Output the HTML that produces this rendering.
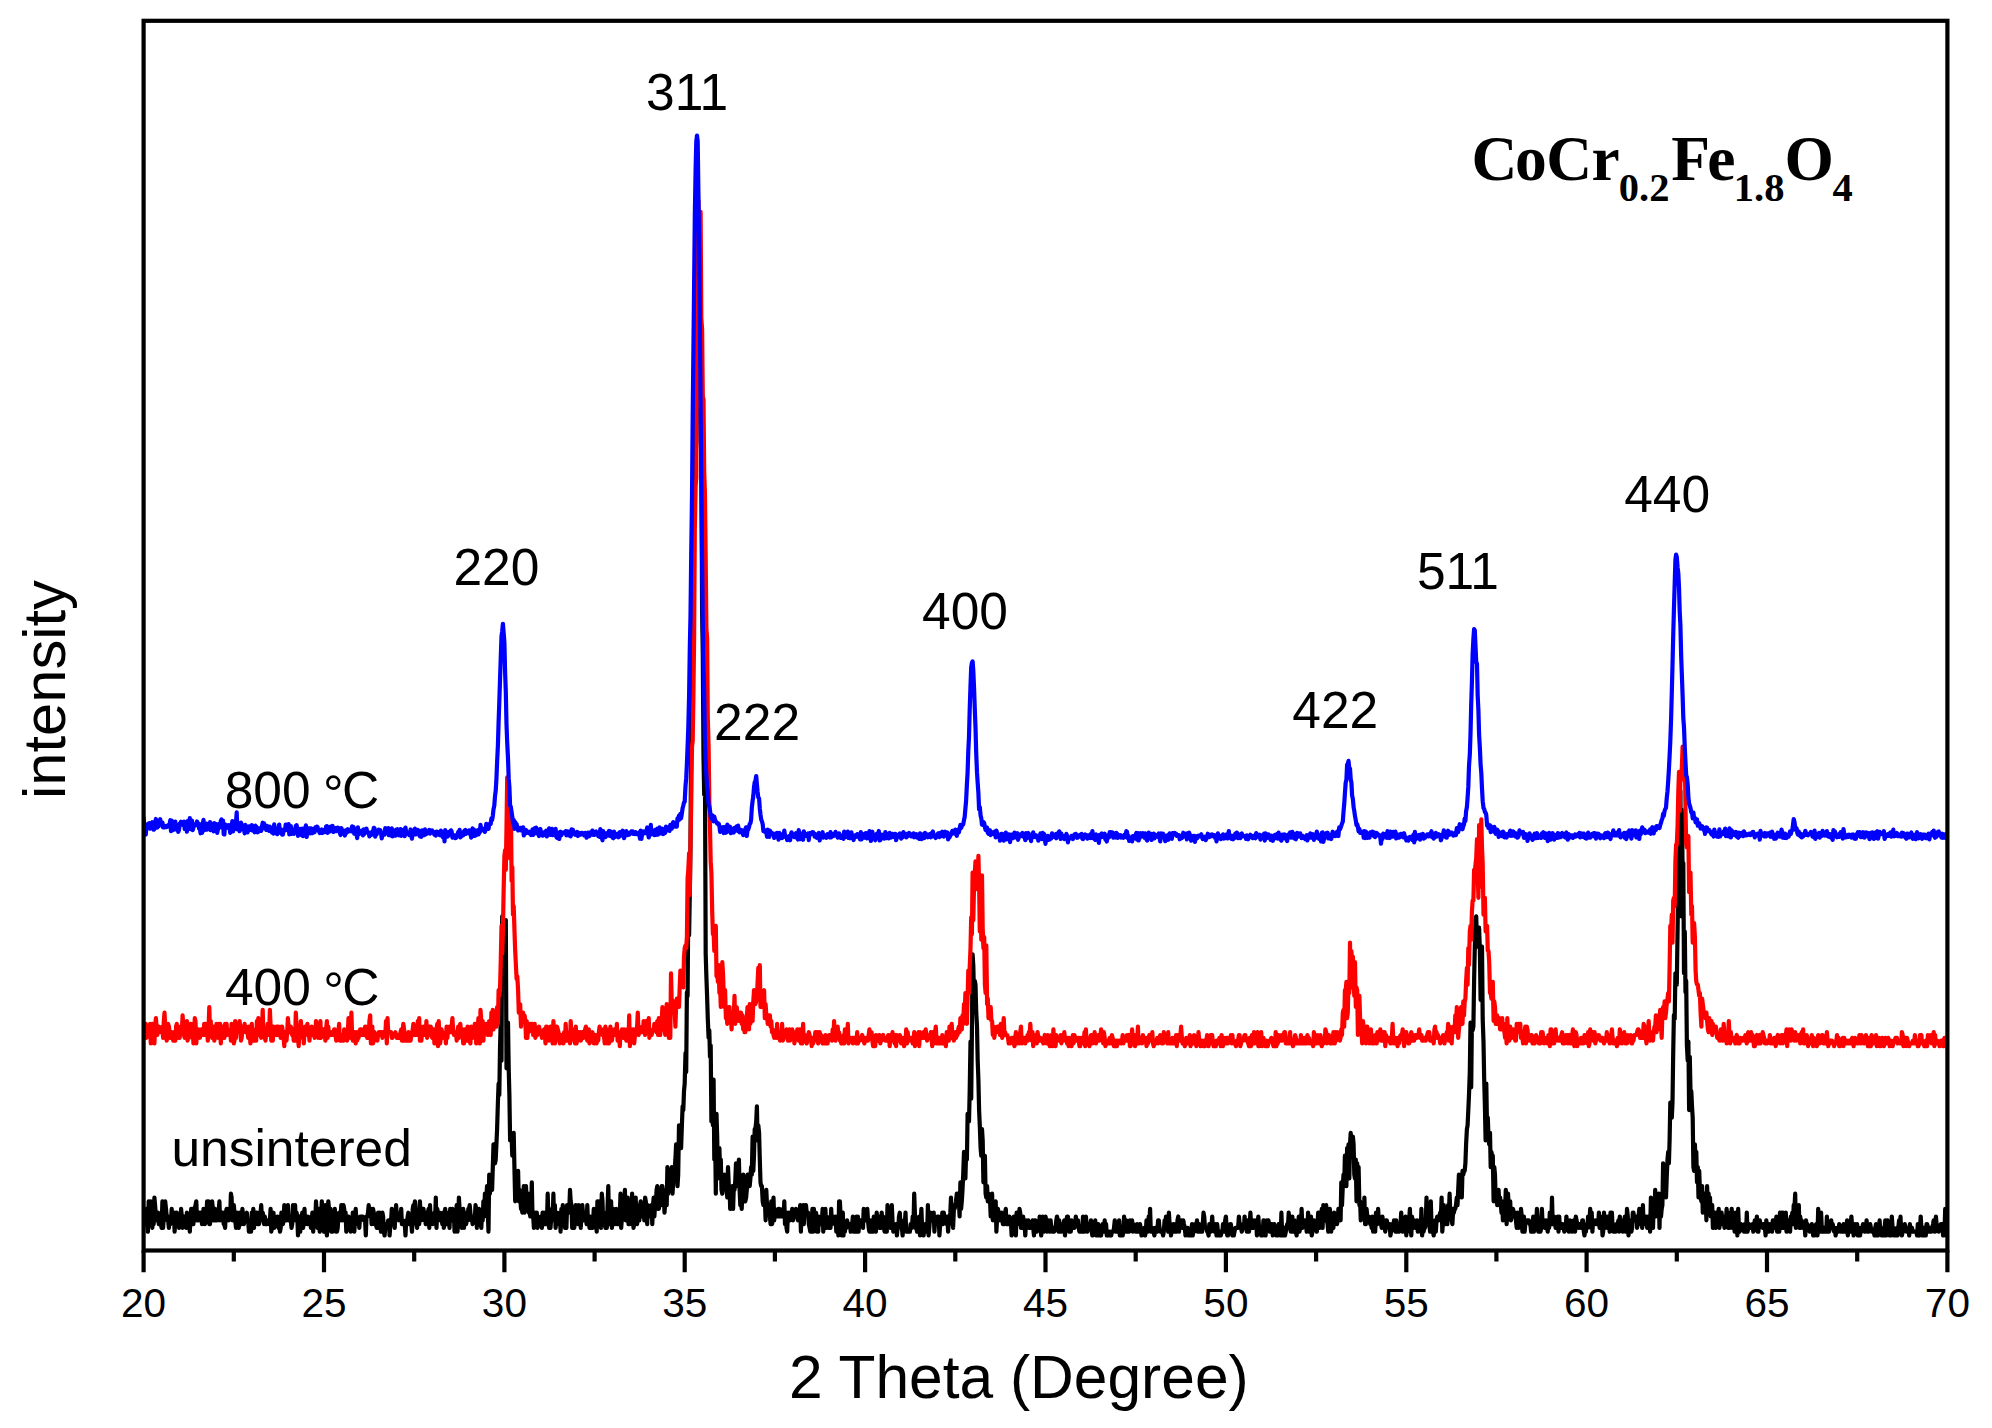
<!DOCTYPE html><html><head><meta charset="utf-8"><title>XRD CoCr0.2Fe1.8O4</title>
<style>html,body{margin:0;padding:0;background:#fff}svg{display:block}text{font-family:"Liberation Sans",sans-serif;fill:#000}.t{font-family:"Liberation Serif",serif;font-weight:bold}.c{fill:none;stroke-width:4.2;stroke-linejoin:round;stroke-linecap:round}</style></head><body>
<svg width="1992" height="1428" viewBox="0 0 1992 1428">
<rect width="1992" height="1428" fill="#fff"/>
<defs><clipPath id="cp"><rect x="143.6" y="20.8" width="1803.8" height="1229.7"/></clipPath></defs>
<g clip-path="url(#cp)">
<path class="c" stroke="#000" d="M143.6,1224.1 144.3,1220.3 145.0,1220.3 145.8,1224.1 146.5,1208.9 147.2,1224.1 147.9,1231.7 148.7,1201.3 149.4,1212.7 150.1,1216.5 150.8,1201.3 151.5,1220.3 152.3,1227.9 153.0,1220.3 153.7,1224.1 154.4,1197.5 155.1,1205.1 155.9,1216.5 156.6,1220.3 157.3,1220.3 158.0,1212.7 158.8,1224.1 159.5,1216.5 160.2,1224.1 160.9,1224.1 161.6,1227.9 162.4,1201.3 163.1,1227.9 163.8,1216.5 164.5,1212.7 165.2,1201.3 166.0,1208.9 166.7,1216.5 167.4,1220.3 168.1,1220.3 168.9,1227.9 169.6,1216.5 170.3,1224.1 171.0,1220.3 171.7,1208.9 172.5,1220.3 173.2,1220.3 173.9,1212.7 174.6,1231.7 175.3,1220.3 176.1,1212.7 176.8,1212.7 177.5,1224.1 178.2,1220.3 179.0,1227.9 179.7,1216.5 180.4,1224.1 181.1,1208.9 181.8,1216.5 182.6,1227.9 183.3,1220.3 184.0,1216.5 184.7,1224.1 185.4,1220.3 186.2,1227.9 186.9,1212.7 187.6,1220.3 188.3,1220.3 189.1,1220.3 189.8,1231.7 190.5,1220.3 191.2,1208.9 191.9,1224.1 192.7,1208.9 193.4,1224.1 194.1,1212.7 194.8,1208.9 195.5,1205.1 196.3,1201.3 197.0,1220.3 197.7,1212.7 198.4,1220.3 199.2,1212.7 199.9,1220.3 200.6,1216.5 201.3,1212.7 202.0,1224.1 202.8,1220.3 203.5,1208.9 204.2,1212.7 204.9,1224.1 205.7,1220.3 206.4,1216.5 207.1,1201.3 207.8,1216.5 208.5,1201.3 209.3,1224.1 210.0,1224.1 210.7,1216.5 211.4,1216.5 212.1,1201.3 212.9,1208.9 213.6,1220.3 214.3,1220.3 215.0,1208.9 215.8,1220.3 216.5,1216.5 217.2,1220.3 217.9,1216.5 218.6,1212.7 219.4,1201.3 220.1,1220.3 220.8,1216.5 221.5,1212.7 222.2,1212.7 223.0,1212.7 223.7,1224.1 224.4,1224.1 225.1,1227.9 225.9,1212.7 226.6,1208.9 227.3,1208.9 228.0,1212.7 228.7,1220.3 229.5,1216.5 230.2,1216.5 230.9,1193.7 231.6,1197.5 232.3,1220.3 233.1,1212.7 233.8,1205.1 234.5,1212.7 235.2,1220.3 236.0,1227.9 236.7,1216.5 237.4,1212.7 238.1,1224.1 238.8,1227.9 239.6,1212.7 240.3,1224.1 241.0,1224.1 241.7,1224.1 242.4,1208.9 243.2,1216.5 243.9,1224.1 244.6,1220.3 245.3,1220.3 246.1,1216.5 246.8,1212.7 247.5,1220.3 248.2,1220.3 248.9,1231.7 249.7,1231.7 250.4,1224.1 251.1,1231.7 251.8,1212.7 252.5,1224.1 253.3,1208.9 254.0,1227.9 254.7,1212.7 255.4,1216.5 256.2,1212.7 256.9,1212.7 257.6,1224.1 258.3,1224.1 259.0,1224.1 259.8,1220.3 260.5,1212.7 261.2,1205.1 261.9,1216.5 262.7,1212.7 263.4,1216.5 264.1,1224.1 264.8,1216.5 265.5,1224.1 266.3,1224.1 267.0,1224.1 267.7,1220.3 268.4,1220.3 269.1,1224.1 269.9,1220.3 270.6,1208.9 271.3,1231.7 272.0,1227.9 272.8,1216.5 273.5,1212.7 274.2,1227.9 274.9,1220.3 275.6,1220.3 276.4,1220.3 277.1,1216.5 277.8,1216.5 278.5,1227.9 279.2,1224.1 280.0,1231.7 280.7,1227.9 281.4,1212.7 282.1,1216.5 282.9,1224.1 283.6,1220.3 284.3,1205.1 285.0,1208.9 285.7,1220.3 286.5,1220.3 287.2,1212.7 287.9,1205.1 288.6,1220.3 289.3,1220.3 290.1,1220.3 290.8,1220.3 291.5,1227.9 292.2,1224.1 293.0,1205.1 293.7,1216.5 294.4,1220.3 295.1,1205.1 295.8,1220.3 296.6,1212.7 297.3,1216.5 298.0,1235.5 298.7,1220.3 299.4,1216.5 300.2,1231.7 300.9,1224.1 301.6,1216.5 302.3,1212.7 303.1,1227.9 303.8,1220.3 304.5,1208.9 305.2,1224.1 305.9,1220.3 306.7,1216.5 307.4,1224.1 308.1,1216.5 308.8,1220.3 309.5,1224.1 310.3,1224.1 311.0,1227.9 311.7,1220.3 312.4,1212.7 313.2,1231.7 313.9,1212.7 314.6,1216.5 315.3,1220.3 316.0,1201.3 316.8,1216.5 317.5,1227.9 318.2,1224.1 318.9,1208.9 319.7,1231.7 320.4,1224.1 321.1,1216.5 321.8,1201.3 322.5,1208.9 323.3,1224.1 324.0,1231.7 324.7,1216.5 325.4,1205.1 326.1,1227.9 326.9,1235.5 327.6,1216.5 328.3,1201.3 329.0,1208.9 329.8,1216.5 330.5,1208.9 331.2,1231.7 331.9,1216.5 332.6,1231.7 333.4,1216.5 334.1,1220.3 334.8,1208.9 335.5,1224.1 336.2,1231.7 337.0,1231.7 337.7,1227.9 338.4,1216.5 339.1,1212.7 339.9,1220.3 340.6,1216.5 341.3,1205.1 342.0,1220.3 342.7,1220.3 343.5,1205.1 344.2,1208.9 344.9,1220.3 345.6,1212.7 346.3,1231.7 347.1,1227.9 347.8,1220.3 348.5,1216.5 349.2,1224.1 350.0,1220.3 350.7,1231.7 351.4,1227.9 352.1,1227.9 352.8,1212.7 353.6,1220.3 354.3,1231.7 355.0,1220.3 355.7,1208.9 356.4,1220.3 357.2,1220.3 357.9,1224.1 358.6,1220.3 359.3,1227.9 360.1,1216.5 360.8,1216.5 361.5,1216.5 362.2,1216.5 362.9,1216.5 363.7,1220.3 364.4,1220.3 365.1,1220.3 365.8,1235.5 366.5,1216.5 367.3,1216.5 368.0,1212.7 368.7,1205.1 369.4,1212.7 370.2,1216.5 370.9,1208.9 371.6,1224.1 372.3,1212.7 373.0,1208.9 373.8,1212.7 374.5,1224.1 375.2,1216.5 375.9,1224.1 376.7,1227.9 377.4,1227.9 378.1,1212.7 378.8,1227.9 379.5,1212.7 380.3,1224.1 381.0,1231.7 381.7,1231.7 382.4,1212.7 383.1,1216.5 383.9,1231.7 384.6,1235.5 385.3,1227.9 386.0,1224.1 386.8,1227.9 387.5,1224.1 388.2,1220.3 388.9,1220.3 389.6,1235.5 390.4,1224.1 391.1,1220.3 391.8,1208.9 392.5,1224.1 393.2,1212.7 394.0,1220.3 394.7,1227.9 395.4,1216.5 396.1,1205.1 396.9,1216.5 397.6,1212.7 398.3,1216.5 399.0,1220.3 399.7,1216.5 400.5,1220.3 401.2,1208.9 401.9,1224.1 402.6,1220.3 403.3,1224.1 404.1,1224.1 404.8,1224.1 405.5,1235.5 406.2,1220.3 407.0,1224.1 407.7,1216.5 408.4,1212.7 409.1,1224.1 409.8,1224.1 410.6,1220.3 411.3,1224.1 412.0,1231.7 412.7,1208.9 413.4,1205.1 414.2,1212.7 414.9,1201.3 415.6,1208.9 416.3,1224.1 417.1,1227.9 417.8,1212.7 418.5,1224.1 419.2,1224.1 419.9,1201.3 420.7,1216.5 421.4,1220.3 422.1,1208.9 422.8,1208.9 423.5,1208.9 424.3,1220.3 425.0,1212.7 425.7,1224.1 426.4,1224.1 427.2,1220.3 427.9,1212.7 428.6,1208.9 429.3,1227.9 430.0,1205.1 430.8,1224.1 431.5,1216.5 432.2,1216.5 432.9,1224.1 433.7,1216.5 434.4,1212.7 435.1,1220.3 435.8,1197.5 436.5,1227.9 437.3,1208.9 438.0,1216.5 438.7,1220.3 439.4,1212.7 440.1,1220.3 440.9,1220.3 441.6,1216.5 442.3,1224.1 443.0,1212.7 443.8,1227.9 444.5,1224.1 445.2,1208.9 445.9,1224.1 446.6,1216.5 447.4,1224.1 448.1,1216.5 448.8,1212.7 449.5,1227.9 450.2,1208.9 451.0,1220.3 451.7,1220.3 452.4,1208.9 453.1,1216.5 453.9,1216.5 454.6,1231.7 455.3,1212.7 456.0,1212.7 456.7,1205.1 457.5,1231.7 458.2,1220.3 458.9,1197.5 459.6,1208.9 460.3,1216.5 461.1,1220.3 461.8,1227.9 462.5,1216.5 463.2,1208.9 464.0,1227.9 464.7,1216.5 465.4,1212.7 466.1,1224.1 466.8,1220.3 467.6,1220.3 468.3,1208.9 469.0,1208.9 469.7,1205.1 470.4,1212.7 471.2,1220.3 471.9,1216.5 472.6,1224.1 473.3,1216.5 474.1,1216.5 474.8,1220.3 475.5,1205.1 476.2,1208.9 476.9,1227.9 477.7,1208.9 478.4,1212.7 479.1,1208.9 479.8,1220.3 480.5,1220.3 481.3,1227.9 482.0,1212.7 482.7,1220.3 483.4,1201.3 484.2,1216.5 484.9,1193.7 485.6,1197.5 486.3,1201.3 487.0,1186.1 487.8,1212.7 488.5,1231.7 489.2,1174.7 489.9,1193.7 490.7,1178.5 491.4,1186.1 492.1,1189.9 492.8,1167.1 493.5,1144.3 494.3,1163.3 495.0,1163.3 495.7,1159.5 496.4,1144.3 497.1,1129.1 497.9,1102.5 498.6,1083.5 499.3,1094.9 500.0,1049.3 500.8,1018.9 501.5,1060.7 502.2,916.3 502.9,977.1 503.6,942.9 504.4,961.9 505.1,980.9 505.8,920.1 506.5,1068.3 507.2,1045.5 508.0,1022.7 508.7,1068.3 509.4,1094.9 510.1,1140.5 510.9,1136.7 511.6,1136.7 512.3,1155.7 513.0,1155.7 513.7,1132.9 514.5,1170.9 515.2,1201.3 515.9,1174.7 516.6,1178.5 517.3,1193.7 518.1,1170.9 518.8,1201.3 519.5,1189.9 520.2,1197.5 521.0,1208.9 521.7,1208.9 522.4,1212.7 523.1,1197.5 523.8,1186.1 524.6,1212.7 525.3,1201.3 526.0,1186.1 526.7,1205.1 527.4,1208.9 528.2,1193.7 528.9,1212.7 529.6,1212.7 530.3,1216.5 531.1,1212.7 531.8,1182.3 532.5,1216.5 533.2,1216.5 533.9,1227.9 534.7,1212.7 535.4,1224.1 536.1,1220.3 536.8,1212.7 537.5,1227.9 538.3,1224.1 539.0,1224.1 539.7,1220.3 540.4,1216.5 541.2,1216.5 541.9,1227.9 542.6,1212.7 543.3,1224.1 544.0,1212.7 544.8,1224.1 545.5,1220.3 546.2,1224.1 546.9,1224.1 547.7,1193.7 548.4,1216.5 549.1,1227.9 549.8,1212.7 550.5,1227.9 551.3,1216.5 552.0,1208.9 552.7,1216.5 553.4,1193.7 554.1,1220.3 554.9,1205.1 555.6,1227.9 556.3,1216.5 557.0,1212.7 557.8,1216.5 558.5,1224.1 559.2,1216.5 559.9,1212.7 560.6,1231.7 561.4,1208.9 562.1,1216.5 562.8,1205.1 563.5,1224.1 564.2,1220.3 565.0,1227.9 565.7,1220.3 566.4,1227.9 567.1,1205.1 567.9,1208.9 568.6,1212.7 569.3,1208.9 570.0,1189.9 570.7,1201.3 571.5,1205.1 572.2,1227.9 572.9,1220.3 573.6,1220.3 574.3,1227.9 575.1,1216.5 575.8,1205.1 576.5,1220.3 577.2,1220.3 578.0,1224.1 578.7,1205.1 579.4,1220.3 580.1,1212.7 580.8,1227.9 581.6,1208.9 582.3,1205.1 583.0,1212.7 583.7,1220.3 584.4,1220.3 585.2,1220.3 585.9,1216.5 586.6,1224.1 587.3,1205.1 588.1,1224.1 588.8,1220.3 589.5,1227.9 590.2,1216.5 590.9,1220.3 591.7,1224.1 592.4,1227.9 593.1,1220.3 593.8,1208.9 594.6,1220.3 595.3,1227.9 596.0,1212.7 596.7,1231.7 597.4,1201.3 598.2,1208.9 598.9,1201.3 599.6,1224.1 600.3,1208.9 601.0,1227.9 601.8,1193.7 602.5,1201.3 603.2,1224.1 603.9,1212.7 604.7,1220.3 605.4,1227.9 606.1,1216.5 606.8,1227.9 607.5,1208.9 608.3,1186.1 609.0,1224.1 609.7,1212.7 610.4,1208.9 611.1,1201.3 611.9,1227.9 612.6,1212.7 613.3,1208.9 614.0,1220.3 614.8,1224.1 615.5,1220.3 616.2,1208.9 616.9,1224.1 617.6,1224.1 618.4,1212.7 619.1,1224.1 619.8,1216.5 620.5,1193.7 621.2,1227.9 622.0,1216.5 622.7,1208.9 623.4,1212.7 624.1,1205.1 624.9,1189.9 625.6,1220.3 626.3,1208.9 627.0,1212.7 627.7,1197.5 628.5,1224.1 629.2,1201.3 629.9,1224.1 630.6,1216.5 631.3,1220.3 632.1,1193.7 632.8,1212.7 633.5,1227.9 634.2,1224.1 635.0,1216.5 635.7,1197.5 636.4,1220.3 637.1,1224.1 637.8,1216.5 638.6,1208.9 639.3,1220.3 640.0,1205.1 640.7,1201.3 641.4,1208.9 642.2,1216.5 642.9,1216.5 643.6,1208.9 644.3,1220.3 645.1,1197.5 645.8,1201.3 646.5,1212.7 647.2,1224.1 647.9,1205.1 648.7,1212.7 649.4,1208.9 650.1,1216.5 650.8,1212.7 651.6,1205.1 652.3,1224.1 653.0,1205.1 653.7,1197.5 654.4,1216.5 655.2,1201.3 655.9,1201.3 656.6,1189.9 657.3,1186.1 658.0,1208.9 658.8,1208.9 659.5,1205.1 660.2,1193.7 660.9,1205.1 661.7,1186.1 662.4,1186.1 663.1,1197.5 663.8,1193.7 664.5,1212.7 665.3,1201.3 666.0,1189.9 666.7,1205.1 667.4,1167.1 668.1,1193.7 668.9,1186.1 669.6,1189.9 670.3,1174.7 671.0,1174.7 671.8,1167.1 672.5,1193.7 673.2,1182.3 673.9,1174.7 674.6,1170.9 675.4,1159.5 676.1,1144.3 676.8,1159.5 677.5,1186.1 678.2,1174.7 679.0,1125.3 679.7,1129.1 680.4,1148.1 681.1,1148.1 681.9,1125.3 682.6,1106.3 683.3,1110.1 684.0,1091.1 684.7,1083.5 685.5,1053.1 686.2,1072.1 686.9,992.3 687.6,996.1 688.3,901.1 689.1,935.3 689.8,893.5 690.5,844.1 691.2,726.3 692.0,730.1 692.7,619.9 693.4,600.9 694.1,399.5 694.8,418.5 695.6,243.7 696.3,262.7 697.0,194.3 697.7,293.1 698.4,239.9 699.2,338.7 699.9,372.9 700.6,441.3 701.3,452.7 702.1,612.3 702.8,654.1 703.5,756.7 704.2,794.7 704.9,760.5 705.7,954.3 706.4,977.1 707.1,996.1 707.8,1018.9 708.6,1037.9 709.3,1030.3 710.0,1056.9 710.7,1045.5 711.4,1121.5 712.2,1083.5 712.9,1125.3 713.6,1079.7 714.3,1159.5 715.0,1121.5 715.8,1193.7 716.5,1113.9 717.2,1136.7 717.9,1178.5 718.7,1148.1 719.4,1148.1 720.1,1170.9 720.8,1159.5 721.5,1189.9 722.3,1193.7 723.0,1178.5 723.7,1189.9 724.4,1174.7 725.1,1186.1 725.9,1182.3 726.6,1189.9 727.3,1197.5 728.0,1167.1 728.8,1186.1 729.5,1186.1 730.2,1208.9 730.9,1208.9 731.6,1201.3 732.4,1186.1 733.1,1208.9 733.8,1186.1 734.5,1189.9 735.2,1182.3 736.0,1163.3 736.7,1186.1 737.4,1182.3 738.1,1174.7 738.9,1159.5 739.6,1189.9 740.3,1205.1 741.0,1197.5 741.7,1208.9 742.5,1189.9 743.2,1174.7 743.9,1201.3 744.6,1193.7 745.3,1201.3 746.1,1197.5 746.8,1189.9 747.5,1174.7 748.2,1174.7 749.0,1178.5 749.7,1186.1 750.4,1178.5 751.1,1167.1 751.8,1174.7 752.6,1136.7 753.3,1170.9 754.0,1155.7 754.7,1129.1 755.4,1129.1 756.2,1121.5 756.9,1106.3 757.6,1140.5 758.3,1125.3 759.1,1132.9 759.8,1159.5 760.5,1182.3 761.2,1186.1 761.9,1186.1 762.7,1201.3 763.4,1205.1 764.1,1205.1 764.8,1197.5 765.6,1220.3 766.3,1189.9 767.0,1205.1 767.7,1212.7 768.4,1208.9 769.2,1205.1 769.9,1216.5 770.6,1224.1 771.3,1201.3 772.0,1224.1 772.8,1220.3 773.5,1197.5 774.2,1220.3 774.9,1208.9 775.7,1212.7 776.4,1212.7 777.1,1212.7 777.8,1216.5 778.5,1208.9 779.3,1208.9 780.0,1216.5 780.7,1212.7 781.4,1216.5 782.1,1216.5 782.9,1208.9 783.6,1216.5 784.3,1201.3 785.0,1224.1 785.8,1216.5 786.5,1227.9 787.2,1231.7 787.9,1212.7 788.6,1216.5 789.4,1212.7 790.1,1220.3 790.8,1212.7 791.5,1216.5 792.2,1208.9 793.0,1220.3 793.7,1216.5 794.4,1212.7 795.1,1216.5 795.9,1208.9 796.6,1212.7 797.3,1216.5 798.0,1220.3 798.7,1216.5 799.5,1212.7 800.2,1205.1 800.9,1231.7 801.6,1212.7 802.3,1216.5 803.1,1205.1 803.8,1224.1 804.5,1208.9 805.2,1205.1 806.0,1205.1 806.7,1212.7 807.4,1212.7 808.1,1212.7 808.8,1224.1 809.6,1227.9 810.3,1231.7 811.0,1231.7 811.7,1224.1 812.4,1208.9 813.2,1231.7 813.9,1208.9 814.6,1224.1 815.3,1216.5 816.1,1212.7 816.8,1231.7 817.5,1220.3 818.2,1231.7 818.9,1216.5 819.7,1224.1 820.4,1224.1 821.1,1220.3 821.8,1224.1 822.6,1208.9 823.3,1231.7 824.0,1220.3 824.7,1220.3 825.4,1208.9 826.2,1227.9 826.9,1216.5 827.6,1224.1 828.3,1227.9 829.0,1224.1 829.8,1227.9 830.5,1227.9 831.2,1208.9 831.9,1224.1 832.7,1216.5 833.4,1216.5 834.1,1220.3 834.8,1224.1 835.5,1216.5 836.3,1231.7 837.0,1231.7 837.7,1224.1 838.4,1235.5 839.1,1201.3 839.9,1201.3 840.6,1216.5 841.3,1227.9 842.0,1235.5 842.8,1212.7 843.5,1235.5 844.2,1224.1 844.9,1231.7 845.6,1224.1 846.4,1227.9 847.1,1220.3 847.8,1224.1 848.5,1224.1 849.2,1224.1 850.0,1224.1 850.7,1231.7 851.4,1227.9 852.1,1224.1 852.9,1216.5 853.6,1231.7 854.3,1227.9 855.0,1224.1 855.7,1231.7 856.5,1216.5 857.2,1231.7 857.9,1216.5 858.6,1231.7 859.3,1220.3 860.1,1220.3 860.8,1224.1 861.5,1220.3 862.2,1220.3 863.0,1227.9 863.7,1208.9 864.4,1220.3 865.1,1220.3 865.8,1220.3 866.6,1220.3 867.3,1208.9 868.0,1220.3 868.7,1227.9 869.4,1231.7 870.2,1231.7 870.9,1220.3 871.6,1231.7 872.3,1227.9 873.1,1231.7 873.8,1216.5 874.5,1227.9 875.2,1224.1 875.9,1231.7 876.7,1212.7 877.4,1224.1 878.1,1220.3 878.8,1216.5 879.6,1227.9 880.3,1224.1 881.0,1227.9 881.7,1212.7 882.4,1220.3 883.2,1216.5 883.9,1227.9 884.6,1231.7 885.3,1231.7 886.0,1220.3 886.8,1231.7 887.5,1205.1 888.2,1227.9 888.9,1220.3 889.7,1216.5 890.4,1227.9 891.1,1227.9 891.8,1205.1 892.5,1220.3 893.3,1231.7 894.0,1227.9 894.7,1227.9 895.4,1231.7 896.1,1224.1 896.9,1235.5 897.6,1227.9 898.3,1227.9 899.0,1216.5 899.8,1212.7 900.5,1224.1 901.2,1220.3 901.9,1227.9 902.6,1235.5 903.4,1224.1 904.1,1220.3 904.8,1224.1 905.5,1212.7 906.2,1231.7 907.0,1231.7 907.7,1231.7 908.4,1231.7 909.1,1231.7 909.9,1231.7 910.6,1224.1 911.3,1227.9 912.0,1227.9 912.7,1216.5 913.5,1224.1 914.2,1193.7 914.9,1212.7 915.6,1227.9 916.3,1227.9 917.1,1231.7 917.8,1220.3 918.5,1220.3 919.2,1216.5 920.0,1235.5 920.7,1220.3 921.4,1208.9 922.1,1227.9 922.8,1227.9 923.6,1235.5 924.3,1227.9 925.0,1224.1 925.7,1224.1 926.4,1231.7 927.2,1231.7 927.9,1205.1 928.6,1235.5 929.3,1227.9 930.1,1216.5 930.8,1212.7 931.5,1220.3 932.2,1220.3 932.9,1220.3 933.7,1212.7 934.4,1231.7 935.1,1220.3 935.8,1224.1 936.6,1224.1 937.3,1216.5 938.0,1216.5 938.7,1216.5 939.4,1235.5 940.2,1224.1 940.9,1224.1 941.6,1224.1 942.3,1212.7 943.0,1224.1 943.8,1212.7 944.5,1220.3 945.2,1220.3 945.9,1216.5 946.7,1224.1 947.4,1216.5 948.1,1231.7 948.8,1220.3 949.5,1224.1 950.3,1212.7 951.0,1197.5 951.7,1220.3 952.4,1216.5 953.1,1227.9 953.9,1208.9 954.6,1208.9 955.3,1205.1 956.0,1201.3 956.8,1193.7 957.5,1193.7 958.2,1205.1 958.9,1201.3 959.6,1216.5 960.4,1182.3 961.1,1208.9 961.8,1201.3 962.5,1189.9 963.2,1174.7 964.0,1151.9 964.7,1167.1 965.4,1178.5 966.1,1151.9 966.9,1159.5 967.6,1113.9 968.3,1121.5 969.0,1121.5 969.7,1091.1 970.5,1041.7 971.2,1098.7 971.9,1034.1 972.6,954.3 973.3,965.7 974.1,999.9 974.8,980.9 975.5,984.7 976.2,1011.3 977.0,1026.5 977.7,1060.7 978.4,1079.7 979.1,1110.1 979.8,1125.3 980.6,1148.1 981.3,1155.7 982.0,1129.1 982.7,1140.5 983.4,1182.3 984.2,1159.5 984.9,1155.7 985.6,1193.7 986.3,1197.5 987.1,1186.1 987.8,1201.3 988.5,1193.7 989.2,1201.3 989.9,1197.5 990.7,1216.5 991.4,1201.3 992.1,1193.7 992.8,1220.3 993.6,1216.5 994.3,1208.9 995.0,1205.1 995.7,1201.3 996.4,1231.7 997.2,1216.5 997.9,1208.9 998.6,1212.7 999.3,1216.5 1000.0,1220.3 1000.8,1220.3 1001.5,1212.7 1002.2,1216.5 1002.9,1224.1 1003.7,1224.1 1004.4,1224.1 1005.1,1212.7 1005.8,1208.9 1006.5,1224.1 1007.3,1224.1 1008.0,1216.5 1008.7,1224.1 1009.4,1216.5 1010.1,1220.3 1010.9,1220.3 1011.6,1235.5 1012.3,1231.7 1013.0,1224.1 1013.8,1216.5 1014.5,1216.5 1015.2,1224.1 1015.9,1235.5 1016.6,1212.7 1017.4,1224.1 1018.1,1212.7 1018.8,1220.3 1019.5,1208.9 1020.2,1212.7 1021.0,1227.9 1021.7,1227.9 1022.4,1227.9 1023.1,1216.5 1023.9,1227.9 1024.6,1224.1 1025.3,1235.5 1026.0,1220.3 1026.7,1224.1 1027.5,1224.1 1028.2,1220.3 1028.9,1227.9 1029.6,1224.1 1030.3,1227.9 1031.1,1224.1 1031.8,1224.1 1032.5,1220.3 1033.2,1227.9 1034.0,1235.5 1034.7,1220.3 1035.4,1220.3 1036.1,1227.9 1036.8,1231.7 1037.6,1224.1 1038.3,1224.1 1039.0,1224.1 1039.7,1216.5 1040.4,1224.1 1041.2,1235.5 1041.9,1224.1 1042.6,1216.5 1043.3,1227.9 1044.1,1231.7 1044.8,1227.9 1045.5,1216.5 1046.2,1220.3 1046.9,1231.7 1047.7,1220.3 1048.4,1220.3 1049.1,1227.9 1049.8,1231.7 1050.6,1220.3 1051.3,1227.9 1052.0,1231.7 1052.7,1231.7 1053.4,1227.9 1054.2,1231.7 1054.9,1227.9 1055.6,1227.9 1056.3,1220.3 1057.0,1216.5 1057.8,1220.3 1058.5,1231.7 1059.2,1220.3 1059.9,1231.7 1060.7,1224.1 1061.4,1231.7 1062.1,1224.1 1062.8,1227.9 1063.5,1224.1 1064.3,1220.3 1065.0,1235.5 1065.7,1224.1 1066.4,1220.3 1067.1,1216.5 1067.9,1216.5 1068.6,1224.1 1069.3,1231.7 1070.0,1231.7 1070.8,1231.7 1071.5,1220.3 1072.2,1227.9 1072.9,1224.1 1073.6,1227.9 1074.4,1227.9 1075.1,1224.1 1075.8,1216.5 1076.5,1224.1 1077.2,1224.1 1078.0,1220.3 1078.7,1227.9 1079.4,1231.7 1080.1,1231.7 1080.9,1231.7 1081.6,1227.9 1082.3,1231.7 1083.0,1216.5 1083.7,1227.9 1084.5,1231.7 1085.2,1227.9 1085.9,1216.5 1086.6,1224.1 1087.3,1231.7 1088.1,1224.1 1088.8,1224.1 1089.5,1227.9 1090.2,1227.9 1091.0,1220.3 1091.7,1231.7 1092.4,1235.5 1093.1,1231.7 1093.8,1224.1 1094.6,1224.1 1095.3,1220.3 1096.0,1235.5 1096.7,1231.7 1097.4,1235.5 1098.2,1224.1 1098.9,1235.5 1099.6,1235.5 1100.3,1231.7 1101.1,1235.5 1101.8,1227.9 1102.5,1224.1 1103.2,1231.7 1103.9,1231.7 1104.7,1220.3 1105.4,1231.7 1106.1,1224.1 1106.8,1235.5 1107.6,1235.5 1108.3,1235.5 1109.0,1231.7 1109.7,1235.5 1110.4,1231.7 1111.2,1235.5 1111.9,1231.7 1112.6,1231.7 1113.3,1231.7 1114.0,1227.9 1114.8,1220.3 1115.5,1231.7 1116.2,1231.7 1116.9,1224.1 1117.7,1227.9 1118.4,1231.7 1119.1,1220.3 1119.8,1235.5 1120.5,1227.9 1121.3,1231.7 1122.0,1235.5 1122.7,1235.5 1123.4,1227.9 1124.1,1216.5 1124.9,1231.7 1125.6,1224.1 1126.3,1220.3 1127.0,1231.7 1127.8,1231.7 1128.5,1227.9 1129.2,1231.7 1129.9,1220.3 1130.6,1224.1 1131.4,1224.1 1132.1,1220.3 1132.8,1231.7 1133.5,1224.1 1134.2,1227.9 1135.0,1227.9 1135.7,1231.7 1136.4,1231.7 1137.1,1224.1 1137.9,1231.7 1138.6,1231.7 1139.3,1227.9 1140.0,1224.1 1140.7,1227.9 1141.5,1235.5 1142.2,1231.7 1142.9,1231.7 1143.6,1231.7 1144.3,1227.9 1145.1,1235.5 1145.8,1231.7 1146.5,1220.3 1147.2,1227.9 1148.0,1231.7 1148.7,1216.5 1149.4,1220.3 1150.1,1208.9 1150.8,1231.7 1151.6,1231.7 1152.3,1227.9 1153.0,1231.7 1153.7,1231.7 1154.4,1235.5 1155.2,1227.9 1155.9,1231.7 1156.6,1227.9 1157.3,1231.7 1158.1,1220.3 1158.8,1220.3 1159.5,1227.9 1160.2,1231.7 1160.9,1231.7 1161.7,1231.7 1162.4,1231.7 1163.1,1235.5 1163.8,1231.7 1164.6,1220.3 1165.3,1227.9 1166.0,1216.5 1166.7,1220.3 1167.4,1224.1 1168.2,1231.7 1168.9,1212.7 1169.6,1224.1 1170.3,1224.1 1171.0,1235.5 1171.8,1227.9 1172.5,1227.9 1173.2,1224.1 1173.9,1224.1 1174.7,1231.7 1175.4,1227.9 1176.1,1224.1 1176.8,1231.7 1177.5,1220.3 1178.3,1216.5 1179.0,1231.7 1179.7,1224.1 1180.4,1227.9 1181.1,1220.3 1181.9,1220.3 1182.6,1227.9 1183.3,1220.3 1184.0,1224.1 1184.8,1227.9 1185.5,1235.5 1186.2,1227.9 1186.9,1231.7 1187.6,1227.9 1188.4,1235.5 1189.1,1235.5 1189.8,1231.7 1190.5,1235.5 1191.2,1231.7 1192.0,1224.1 1192.7,1235.5 1193.4,1231.7 1194.1,1231.7 1194.9,1224.1 1195.6,1227.9 1196.3,1227.9 1197.0,1220.3 1197.7,1231.7 1198.5,1231.7 1199.2,1224.1 1199.9,1227.9 1200.6,1231.7 1201.3,1231.7 1202.1,1231.7 1202.8,1224.1 1203.5,1212.7 1204.2,1216.5 1205.0,1227.9 1205.7,1227.9 1206.4,1227.9 1207.1,1231.7 1207.8,1231.7 1208.6,1235.5 1209.3,1224.1 1210.0,1227.9 1210.7,1231.7 1211.4,1227.9 1212.2,1216.5 1212.9,1227.9 1213.6,1227.9 1214.3,1231.7 1215.1,1231.7 1215.8,1224.1 1216.5,1235.5 1217.2,1224.1 1217.9,1231.7 1218.7,1231.7 1219.4,1235.5 1220.1,1231.7 1220.8,1235.5 1221.6,1231.7 1222.3,1231.7 1223.0,1224.1 1223.7,1227.9 1224.4,1231.7 1225.2,1220.3 1225.9,1216.5 1226.6,1227.9 1227.3,1235.5 1228.0,1235.5 1228.8,1227.9 1229.5,1231.7 1230.2,1224.1 1230.9,1224.1 1231.7,1231.7 1232.4,1235.5 1233.1,1231.7 1233.8,1235.5 1234.5,1231.7 1235.3,1227.9 1236.0,1227.9 1236.7,1227.9 1237.4,1227.9 1238.1,1227.9 1238.9,1216.5 1239.6,1224.1 1240.3,1224.1 1241.0,1227.9 1241.8,1231.7 1242.5,1227.9 1243.2,1224.1 1243.9,1227.9 1244.6,1216.5 1245.4,1227.9 1246.1,1227.9 1246.8,1231.7 1247.5,1220.3 1248.2,1227.9 1249.0,1231.7 1249.7,1224.1 1250.4,1212.7 1251.1,1224.1 1251.9,1227.9 1252.6,1224.1 1253.3,1227.9 1254.0,1220.3 1254.7,1224.1 1255.5,1224.1 1256.2,1220.3 1256.9,1235.5 1257.6,1231.7 1258.3,1216.5 1259.1,1227.9 1259.8,1231.7 1260.5,1227.9 1261.2,1235.5 1262.0,1227.9 1262.7,1235.5 1263.4,1220.3 1264.1,1220.3 1264.8,1235.5 1265.6,1235.5 1266.3,1224.1 1267.0,1220.3 1267.7,1227.9 1268.4,1220.3 1269.2,1224.1 1269.9,1231.7 1270.6,1224.1 1271.3,1224.1 1272.1,1224.1 1272.8,1235.5 1273.5,1227.9 1274.2,1224.1 1274.9,1231.7 1275.7,1231.7 1276.4,1235.5 1277.1,1231.7 1277.8,1235.5 1278.6,1224.1 1279.3,1227.9 1280.0,1227.9 1280.7,1235.5 1281.4,1212.7 1282.2,1235.5 1282.9,1231.7 1283.6,1231.7 1284.3,1227.9 1285.0,1235.5 1285.8,1231.7 1286.5,1227.9 1287.2,1224.1 1287.9,1227.9 1288.7,1212.7 1289.4,1220.3 1290.1,1227.9 1290.8,1231.7 1291.5,1231.7 1292.3,1216.5 1293.0,1224.1 1293.7,1231.7 1294.4,1220.3 1295.1,1227.9 1295.9,1231.7 1296.6,1235.5 1297.3,1227.9 1298.0,1224.1 1298.8,1216.5 1299.5,1231.7 1300.2,1227.9 1300.9,1227.9 1301.6,1208.9 1302.4,1227.9 1303.1,1224.1 1303.8,1224.1 1304.5,1220.3 1305.2,1220.3 1306.0,1224.1 1306.7,1231.7 1307.4,1227.9 1308.1,1212.7 1308.9,1231.7 1309.6,1220.3 1310.3,1224.1 1311.0,1216.5 1311.7,1235.5 1312.5,1231.7 1313.2,1224.1 1313.9,1220.3 1314.6,1227.9 1315.3,1224.1 1316.1,1224.1 1316.8,1231.7 1317.5,1224.1 1318.2,1212.7 1319.0,1212.7 1319.7,1227.9 1320.4,1212.7 1321.1,1224.1 1321.8,1208.9 1322.6,1227.9 1323.3,1205.1 1324.0,1220.3 1324.7,1220.3 1325.4,1220.3 1326.2,1205.1 1326.9,1220.3 1327.6,1224.1 1328.3,1231.7 1329.1,1220.3 1329.8,1208.9 1330.5,1220.3 1331.2,1231.7 1331.9,1224.1 1332.7,1220.3 1333.4,1227.9 1334.1,1212.7 1334.8,1224.1 1335.6,1216.5 1336.3,1216.5 1337.0,1224.1 1337.7,1220.3 1338.4,1208.9 1339.2,1212.7 1339.9,1208.9 1340.6,1220.3 1341.3,1182.3 1342.0,1205.1 1342.8,1186.1 1343.5,1174.7 1344.2,1186.1 1344.9,1155.7 1345.7,1163.3 1346.4,1186.1 1347.1,1148.1 1347.8,1159.5 1348.5,1144.3 1349.3,1178.5 1350.0,1144.3 1350.7,1132.9 1351.4,1140.5 1352.1,1136.7 1352.9,1136.7 1353.6,1144.3 1354.3,1174.7 1355.0,1178.5 1355.8,1159.5 1356.5,1201.3 1357.2,1163.3 1357.9,1186.1 1358.6,1167.1 1359.4,1205.1 1360.1,1201.3 1360.8,1220.3 1361.5,1212.7 1362.2,1208.9 1363.0,1208.9 1363.7,1212.7 1364.4,1197.5 1365.1,1224.1 1365.9,1224.1 1366.6,1208.9 1367.3,1216.5 1368.0,1216.5 1368.7,1216.5 1369.5,1220.3 1370.2,1224.1 1370.9,1220.3 1371.6,1227.9 1372.3,1216.5 1373.1,1231.7 1373.8,1220.3 1374.5,1227.9 1375.2,1231.7 1376.0,1212.7 1376.7,1220.3 1377.4,1224.1 1378.1,1208.9 1378.8,1220.3 1379.6,1220.3 1380.3,1220.3 1381.0,1224.1 1381.7,1227.9 1382.4,1216.5 1383.2,1224.1 1383.9,1220.3 1384.6,1227.9 1385.3,1231.7 1386.1,1220.3 1386.8,1220.3 1387.5,1224.1 1388.2,1224.1 1388.9,1227.9 1389.7,1224.1 1390.4,1235.5 1391.1,1231.7 1391.8,1224.1 1392.6,1224.1 1393.3,1227.9 1394.0,1220.3 1394.7,1227.9 1395.4,1231.7 1396.2,1220.3 1396.9,1231.7 1397.6,1227.9 1398.3,1224.1 1399.0,1231.7 1399.8,1227.9 1400.5,1224.1 1401.2,1212.7 1401.9,1227.9 1402.7,1231.7 1403.4,1224.1 1404.1,1227.9 1404.8,1227.9 1405.5,1216.5 1406.3,1235.5 1407.0,1220.3 1407.7,1231.7 1408.4,1224.1 1409.1,1220.3 1409.9,1208.9 1410.6,1227.9 1411.3,1235.5 1412.0,1216.5 1412.8,1224.1 1413.5,1227.9 1414.2,1220.3 1414.9,1224.1 1415.6,1227.9 1416.4,1224.1 1417.1,1220.3 1417.8,1231.7 1418.5,1224.1 1419.2,1224.1 1420.0,1220.3 1420.7,1231.7 1421.4,1208.9 1422.1,1235.5 1422.9,1227.9 1423.6,1231.7 1424.3,1227.9 1425.0,1227.9 1425.7,1224.1 1426.5,1197.5 1427.2,1224.1 1427.9,1216.5 1428.6,1220.3 1429.3,1224.1 1430.1,1231.7 1430.8,1201.3 1431.5,1224.1 1432.2,1224.1 1433.0,1231.7 1433.7,1235.5 1434.4,1227.9 1435.1,1220.3 1435.8,1231.7 1436.6,1220.3 1437.3,1216.5 1438.0,1220.3 1438.7,1220.3 1439.4,1216.5 1440.2,1212.7 1440.9,1216.5 1441.6,1197.5 1442.3,1231.7 1443.1,1220.3 1443.8,1205.1 1444.5,1220.3 1445.2,1224.1 1445.9,1216.5 1446.7,1216.5 1447.4,1224.1 1448.1,1205.1 1448.8,1216.5 1449.6,1193.7 1450.3,1212.7 1451.0,1212.7 1451.7,1220.3 1452.4,1224.1 1453.2,1208.9 1453.9,1212.7 1454.6,1208.9 1455.3,1208.9 1456.0,1205.1 1456.8,1197.5 1457.5,1205.1 1458.2,1189.9 1458.9,1174.7 1459.7,1193.7 1460.4,1186.1 1461.1,1186.1 1461.8,1197.5 1462.5,1170.9 1463.3,1174.7 1464.0,1170.9 1464.7,1170.9 1465.4,1163.3 1466.1,1144.3 1466.9,1129.1 1467.6,1125.3 1468.3,1110.1 1469.0,1094.9 1469.8,1072.1 1470.5,1022.7 1471.2,1087.3 1471.9,1022.7 1472.6,1030.3 1473.4,1026.5 1474.1,980.9 1474.8,946.7 1475.5,920.1 1476.2,916.3 1477.0,942.9 1477.7,946.7 1478.4,935.3 1479.1,927.7 1479.9,950.5 1480.6,999.9 1481.3,984.7 1482.0,946.7 1482.7,1018.9 1483.5,1041.7 1484.2,1079.7 1484.9,1106.3 1485.6,1140.5 1486.3,1083.5 1487.1,1132.9 1487.8,1117.7 1488.5,1136.7 1489.2,1144.3 1490.0,1132.9 1490.7,1167.1 1491.4,1151.9 1492.1,1155.7 1492.8,1155.7 1493.6,1201.3 1494.3,1167.1 1495.0,1174.7 1495.7,1201.3 1496.5,1189.9 1497.2,1205.1 1497.9,1193.7 1498.6,1189.9 1499.3,1205.1 1500.1,1197.5 1500.8,1205.1 1501.5,1212.7 1502.2,1201.3 1502.9,1220.3 1503.7,1208.9 1504.4,1201.3 1505.1,1208.9 1505.8,1189.9 1506.6,1224.1 1507.3,1212.7 1508.0,1193.7 1508.7,1205.1 1509.4,1212.7 1510.2,1201.3 1510.9,1220.3 1511.6,1216.5 1512.3,1208.9 1513.0,1208.9 1513.8,1212.7 1514.5,1216.5 1515.2,1212.7 1515.9,1220.3 1516.7,1227.9 1517.4,1212.7 1518.1,1220.3 1518.8,1227.9 1519.5,1220.3 1520.3,1224.1 1521.0,1208.9 1521.7,1216.5 1522.4,1231.7 1523.1,1231.7 1523.9,1216.5 1524.6,1231.7 1525.3,1224.1 1526.0,1220.3 1526.8,1220.3 1527.5,1220.3 1528.2,1220.3 1528.9,1220.3 1529.6,1224.1 1530.4,1224.1 1531.1,1231.7 1531.8,1227.9 1532.5,1231.7 1533.2,1216.5 1534.0,1231.7 1534.7,1216.5 1535.4,1227.9 1536.1,1227.9 1536.9,1208.9 1537.6,1220.3 1538.3,1231.7 1539.0,1220.3 1539.7,1231.7 1540.5,1231.7 1541.2,1227.9 1541.9,1208.9 1542.6,1224.1 1543.3,1220.3 1544.1,1224.1 1544.8,1227.9 1545.5,1220.3 1546.2,1220.3 1547.0,1227.9 1547.7,1231.7 1548.4,1224.1 1549.1,1227.9 1549.8,1212.7 1550.6,1224.1 1551.3,1224.1 1552.0,1197.5 1552.7,1224.1 1553.5,1224.1 1554.2,1216.5 1554.9,1220.3 1555.6,1227.9 1556.3,1224.1 1557.1,1224.1 1557.8,1216.5 1558.5,1231.7 1559.2,1216.5 1559.9,1227.9 1560.7,1224.1 1561.4,1227.9 1562.1,1224.1 1562.8,1224.1 1563.6,1227.9 1564.3,1231.7 1565.0,1227.9 1565.7,1227.9 1566.4,1216.5 1567.2,1224.1 1567.9,1227.9 1568.6,1231.7 1569.3,1231.7 1570.0,1220.3 1570.8,1224.1 1571.5,1227.9 1572.2,1231.7 1572.9,1224.1 1573.7,1220.3 1574.4,1227.9 1575.1,1231.7 1575.8,1216.5 1576.5,1220.3 1577.3,1224.1 1578.0,1224.1 1578.7,1227.9 1579.4,1224.1 1580.1,1224.1 1580.9,1227.9 1581.6,1227.9 1582.3,1220.3 1583.0,1220.3 1583.8,1231.7 1584.5,1235.5 1585.2,1227.9 1585.9,1231.7 1586.6,1224.1 1587.4,1227.9 1588.1,1216.5 1588.8,1224.1 1589.5,1220.3 1590.2,1208.9 1591.0,1227.9 1591.7,1212.7 1592.4,1231.7 1593.1,1220.3 1593.9,1224.1 1594.6,1224.1 1595.3,1220.3 1596.0,1224.1 1596.7,1224.1 1597.5,1220.3 1598.2,1224.1 1598.9,1212.7 1599.6,1227.9 1600.3,1216.5 1601.1,1227.9 1601.8,1220.3 1602.5,1235.5 1603.2,1231.7 1604.0,1212.7 1604.7,1227.9 1605.4,1227.9 1606.1,1224.1 1606.8,1216.5 1607.6,1227.9 1608.3,1216.5 1609.0,1224.1 1609.7,1231.7 1610.5,1212.7 1611.2,1220.3 1611.9,1212.7 1612.6,1227.9 1613.3,1231.7 1614.1,1231.7 1614.8,1231.7 1615.5,1231.7 1616.2,1224.1 1616.9,1224.1 1617.7,1224.1 1618.4,1220.3 1619.1,1231.7 1619.8,1216.5 1620.6,1224.1 1621.3,1227.9 1622.0,1227.9 1622.7,1231.7 1623.4,1227.9 1624.2,1220.3 1624.9,1216.5 1625.6,1231.7 1626.3,1231.7 1627.0,1208.9 1627.8,1216.5 1628.5,1235.5 1629.2,1220.3 1629.9,1220.3 1630.7,1224.1 1631.4,1231.7 1632.1,1227.9 1632.8,1212.7 1633.5,1212.7 1634.3,1220.3 1635.0,1220.3 1635.7,1220.3 1636.4,1216.5 1637.1,1227.9 1637.9,1220.3 1638.6,1216.5 1639.3,1208.9 1640.0,1224.1 1640.8,1208.9 1641.5,1208.9 1642.2,1227.9 1642.9,1205.1 1643.6,1224.1 1644.4,1220.3 1645.1,1220.3 1645.8,1216.5 1646.5,1224.1 1647.2,1227.9 1648.0,1216.5 1648.7,1216.5 1649.4,1216.5 1650.1,1231.7 1650.9,1197.5 1651.6,1220.3 1652.3,1212.7 1653.0,1227.9 1653.7,1205.1 1654.5,1212.7 1655.2,1189.9 1655.9,1216.5 1656.6,1193.7 1657.3,1197.5 1658.1,1216.5 1658.8,1193.7 1659.5,1227.9 1660.2,1197.5 1661.0,1216.5 1661.7,1208.9 1662.4,1205.1 1663.1,1163.3 1663.8,1186.1 1664.6,1170.9 1665.3,1178.5 1666.0,1197.5 1666.7,1178.5 1667.5,1159.5 1668.2,1151.9 1668.9,1163.3 1669.6,1140.5 1670.3,1102.5 1671.1,1106.3 1671.8,1117.7 1672.5,1102.5 1673.2,1053.1 1673.9,1015.1 1674.7,1018.9 1675.4,973.3 1676.1,977.1 1676.8,984.7 1677.6,927.7 1678.3,878.3 1679.0,851.7 1679.7,870.7 1680.4,790.9 1681.2,916.3 1681.9,809.9 1682.6,870.7 1683.3,863.1 1684.0,973.3 1684.8,931.5 1685.5,992.3 1686.2,980.9 1686.9,1045.5 1687.7,1060.7 1688.4,1041.7 1689.1,1110.1 1689.8,1056.9 1690.5,1091.1 1691.3,1091.1 1692.0,1106.3 1692.7,1117.7 1693.4,1167.1 1694.1,1170.9 1694.9,1144.3 1695.6,1163.3 1696.3,1151.9 1697.0,1182.3 1697.8,1167.1 1698.5,1197.5 1699.2,1170.9 1699.9,1189.9 1700.6,1197.5 1701.4,1201.3 1702.1,1186.1 1702.8,1212.7 1703.5,1193.7 1704.2,1197.5 1705.0,1193.7 1705.7,1197.5 1706.4,1220.3 1707.1,1186.1 1707.9,1205.1 1708.6,1193.7 1709.3,1212.7 1710.0,1197.5 1710.7,1216.5 1711.5,1216.5 1712.2,1205.1 1712.9,1227.9 1713.6,1227.9 1714.3,1212.7 1715.1,1212.7 1715.8,1227.9 1716.5,1212.7 1717.2,1224.1 1718.0,1216.5 1718.7,1208.9 1719.4,1227.9 1720.1,1216.5 1720.8,1220.3 1721.6,1212.7 1722.3,1224.1 1723.0,1224.1 1723.7,1216.5 1724.5,1227.9 1725.2,1220.3 1725.9,1224.1 1726.6,1208.9 1727.3,1220.3 1728.1,1227.9 1728.8,1227.9 1729.5,1227.9 1730.2,1212.7 1730.9,1220.3 1731.7,1208.9 1732.4,1227.9 1733.1,1216.5 1733.8,1212.7 1734.6,1231.7 1735.3,1220.3 1736.0,1212.7 1736.7,1224.1 1737.4,1235.5 1738.2,1208.9 1738.9,1227.9 1739.6,1231.7 1740.3,1227.9 1741.0,1224.1 1741.8,1227.9 1742.5,1227.9 1743.2,1227.9 1743.9,1231.7 1744.7,1224.1 1745.4,1224.1 1746.1,1231.7 1746.8,1212.7 1747.5,1231.7 1748.3,1227.9 1749.0,1224.1 1749.7,1227.9 1750.4,1227.9 1751.1,1227.9 1751.9,1227.9 1752.6,1224.1 1753.3,1231.7 1754.0,1227.9 1754.8,1220.3 1755.5,1224.1 1756.2,1227.9 1756.9,1216.5 1757.6,1231.7 1758.4,1231.7 1759.1,1224.1 1759.8,1220.3 1760.5,1224.1 1761.2,1224.1 1762.0,1224.1 1762.7,1227.9 1763.4,1224.1 1764.1,1227.9 1764.9,1227.9 1765.6,1235.5 1766.3,1220.3 1767.0,1227.9 1767.7,1227.9 1768.5,1231.7 1769.2,1224.1 1769.9,1227.9 1770.6,1227.9 1771.3,1224.1 1772.1,1231.7 1772.8,1220.3 1773.5,1220.3 1774.2,1227.9 1775.0,1227.9 1775.7,1224.1 1776.4,1216.5 1777.1,1231.7 1777.8,1224.1 1778.6,1224.1 1779.3,1231.7 1780.0,1212.7 1780.7,1227.9 1781.5,1212.7 1782.2,1227.9 1782.9,1212.7 1783.6,1227.9 1784.3,1224.1 1785.1,1224.1 1785.8,1212.7 1786.5,1231.7 1787.2,1224.1 1787.9,1224.1 1788.7,1220.3 1789.4,1224.1 1790.1,1231.7 1790.8,1216.5 1791.6,1220.3 1792.3,1212.7 1793.0,1224.1 1793.7,1205.1 1794.4,1208.9 1795.2,1193.7 1795.9,1227.9 1796.6,1212.7 1797.3,1216.5 1798.0,1216.5 1798.8,1205.1 1799.5,1227.9 1800.2,1216.5 1800.9,1227.9 1801.7,1220.3 1802.4,1224.1 1803.1,1227.9 1803.8,1224.1 1804.5,1224.1 1805.3,1235.5 1806.0,1220.3 1806.7,1227.9 1807.4,1224.1 1808.1,1227.9 1808.9,1227.9 1809.6,1231.7 1810.3,1227.9 1811.0,1227.9 1811.8,1224.1 1812.5,1227.9 1813.2,1235.5 1813.9,1227.9 1814.6,1235.5 1815.4,1227.9 1816.1,1224.1 1816.8,1231.7 1817.5,1235.5 1818.2,1208.9 1819.0,1227.9 1819.7,1231.7 1820.4,1231.7 1821.1,1212.7 1821.9,1231.7 1822.6,1231.7 1823.3,1231.7 1824.0,1227.9 1824.7,1231.7 1825.5,1227.9 1826.2,1231.7 1826.9,1216.5 1827.6,1231.7 1828.3,1231.7 1829.1,1231.7 1829.8,1227.9 1830.5,1227.9 1831.2,1220.3 1832.0,1227.9 1832.7,1224.1 1833.4,1227.9 1834.1,1231.7 1834.8,1227.9 1835.6,1235.5 1836.3,1231.7 1837.0,1227.9 1837.7,1227.9 1838.5,1231.7 1839.2,1224.1 1839.9,1227.9 1840.6,1231.7 1841.3,1231.7 1842.1,1227.9 1842.8,1231.7 1843.5,1224.1 1844.2,1231.7 1844.9,1227.9 1845.7,1231.7 1846.4,1227.9 1847.1,1220.3 1847.8,1235.5 1848.6,1227.9 1849.3,1231.7 1850.0,1231.7 1850.7,1224.1 1851.4,1216.5 1852.2,1227.9 1852.9,1224.1 1853.6,1235.5 1854.3,1231.7 1855.0,1224.1 1855.8,1227.9 1856.5,1227.9 1857.2,1224.1 1857.9,1235.5 1858.7,1227.9 1859.4,1231.7 1860.1,1235.5 1860.8,1227.9 1861.5,1231.7 1862.3,1227.9 1863.0,1224.1 1863.7,1227.9 1864.4,1231.7 1865.1,1231.7 1865.9,1227.9 1866.6,1220.3 1867.3,1231.7 1868.0,1227.9 1868.8,1231.7 1869.5,1227.9 1870.2,1224.1 1870.9,1227.9 1871.6,1231.7 1872.4,1231.7 1873.1,1231.7 1873.8,1231.7 1874.5,1235.5 1875.2,1227.9 1876.0,1224.1 1876.7,1235.5 1877.4,1231.7 1878.1,1235.5 1878.9,1231.7 1879.6,1220.3 1880.3,1231.7 1881.0,1227.9 1881.7,1235.5 1882.5,1231.7 1883.2,1235.5 1883.9,1235.5 1884.6,1227.9 1885.3,1220.3 1886.1,1235.5 1886.8,1227.9 1887.5,1220.3 1888.2,1227.9 1889.0,1227.9 1889.7,1235.5 1890.4,1227.9 1891.1,1235.5 1891.8,1216.5 1892.6,1227.9 1893.3,1227.9 1894.0,1235.5 1894.7,1235.5 1895.5,1235.5 1896.2,1235.5 1896.9,1227.9 1897.6,1235.5 1898.3,1227.9 1899.1,1220.3 1899.8,1231.7 1900.5,1216.5 1901.2,1231.7 1901.9,1235.5 1902.7,1231.7 1903.4,1227.9 1904.1,1227.9 1904.8,1224.1 1905.6,1227.9 1906.3,1231.7 1907.0,1231.7 1907.7,1227.9 1908.4,1227.9 1909.2,1235.5 1909.9,1224.1 1910.6,1231.7 1911.3,1231.7 1912.0,1227.9 1912.8,1231.7 1913.5,1231.7 1914.2,1231.7 1914.9,1231.7 1915.7,1231.7 1916.4,1231.7 1917.1,1235.5 1917.8,1224.1 1918.5,1231.7 1919.3,1235.5 1920.0,1227.9 1920.7,1216.5 1921.4,1227.9 1922.1,1235.5 1922.9,1235.5 1923.6,1227.9 1924.3,1231.7 1925.0,1235.5 1925.8,1235.5 1926.5,1224.1 1927.2,1224.1 1927.9,1227.9 1928.6,1231.7 1929.4,1227.9 1930.1,1231.7 1930.8,1231.7 1931.5,1231.7 1932.2,1227.9 1933.0,1224.1 1933.7,1220.3 1934.4,1231.7 1935.1,1231.7 1935.9,1216.5 1936.6,1224.1 1937.3,1227.9 1938.0,1227.9 1938.7,1231.7 1939.5,1227.9 1940.2,1227.9 1940.9,1224.1 1941.6,1227.9 1942.3,1224.1 1943.1,1235.5 1943.8,1235.5 1944.5,1231.7 1945.2,1208.9 1946.0,1227.9 1946.7,1227.9 1947.4,1235.5"/>
<path class="c" stroke="#f00" d="M143.6,1035.0 144.3,1032.2 145.0,1032.2 145.8,1023.8 146.5,1037.8 147.2,1032.2 147.9,1035.0 148.7,1026.6 149.4,1035.0 150.1,1023.8 150.8,1043.4 151.5,1029.4 152.3,1023.8 153.0,1026.6 153.7,1035.0 154.4,1043.4 155.1,1026.6 155.9,1018.2 156.6,1026.6 157.3,1035.0 158.0,1026.6 158.8,1026.6 159.5,1032.2 160.2,1029.4 160.9,1032.2 161.6,1029.4 162.4,1026.6 163.1,1037.8 163.8,1021.0 164.5,1012.6 165.2,1026.6 166.0,1026.6 166.7,1040.6 167.4,1037.8 168.1,1023.8 168.9,1026.6 169.6,1032.2 170.3,1037.8 171.0,1032.2 171.7,1032.2 172.5,1035.0 173.2,1040.6 173.9,1032.2 174.6,1037.8 175.3,1040.6 176.1,1026.6 176.8,1023.8 177.5,1037.8 178.2,1037.8 179.0,1032.2 179.7,1037.8 180.4,1026.6 181.1,1029.4 181.8,1032.2 182.6,1015.4 183.3,1026.6 184.0,1035.0 184.7,1037.8 185.4,1029.4 186.2,1035.0 186.9,1021.0 187.6,1040.6 188.3,1035.0 189.1,1035.0 189.8,1026.6 190.5,1023.8 191.2,1026.6 191.9,1037.8 192.7,1023.8 193.4,1043.4 194.1,1035.0 194.8,1018.2 195.5,1021.0 196.3,1043.4 197.0,1029.4 197.7,1037.8 198.4,1029.4 199.2,1035.0 199.9,1037.8 200.6,1032.2 201.3,1029.4 202.0,1032.2 202.8,1032.2 203.5,1035.0 204.2,1023.8 204.9,1035.0 205.7,1023.8 206.4,1029.4 207.1,1029.4 207.8,1040.6 208.5,1029.4 209.3,1007.0 210.0,1032.2 210.7,1021.0 211.4,1032.2 212.1,1037.8 212.9,1026.6 213.6,1026.6 214.3,1040.6 215.0,1026.6 215.8,1032.2 216.5,1023.8 217.2,1035.0 217.9,1037.8 218.6,1023.8 219.4,1029.4 220.1,1023.8 220.8,1043.4 221.5,1029.4 222.2,1026.6 223.0,1032.2 223.7,1037.8 224.4,1037.8 225.1,1023.8 225.9,1026.6 226.6,1023.8 227.3,1035.0 228.0,1029.4 228.7,1032.2 229.5,1032.2 230.2,1029.4 230.9,1040.6 231.6,1023.8 232.3,1035.0 233.1,1032.2 233.8,1043.4 234.5,1040.6 235.2,1021.0 236.0,1037.8 236.7,1026.6 237.4,1032.2 238.1,1026.6 238.8,1029.4 239.6,1021.0 240.3,1029.4 241.0,1040.6 241.7,1037.8 242.4,1026.6 243.2,1032.2 243.9,1029.4 244.6,1023.8 245.3,1032.2 246.1,1026.6 246.8,1029.4 247.5,1032.2 248.2,1037.8 248.9,1026.6 249.7,1032.2 250.4,1043.4 251.1,1037.8 251.8,1023.8 252.5,1040.6 253.3,1032.2 254.0,1040.6 254.7,1032.2 255.4,1029.4 256.2,1040.6 256.9,1021.0 257.6,1032.2 258.3,1018.2 259.0,1035.0 259.8,1032.2 260.5,1035.0 261.2,1037.8 261.9,1032.2 262.7,1009.8 263.4,1032.2 264.1,1035.0 264.8,1037.8 265.5,1040.6 266.3,1032.2 267.0,1032.2 267.7,1023.8 268.4,1035.0 269.1,1035.0 269.9,1009.8 270.6,1026.6 271.3,1040.6 272.0,1035.0 272.8,1040.6 273.5,1026.6 274.2,1035.0 274.9,1035.0 275.6,1029.4 276.4,1026.6 277.1,1029.4 277.8,1035.0 278.5,1026.6 279.2,1035.0 280.0,1029.4 280.7,1037.8 281.4,1026.6 282.1,1026.6 282.9,1032.2 283.6,1037.8 284.3,1046.2 285.0,1032.2 285.7,1032.2 286.5,1040.6 287.2,1032.2 287.9,1018.2 288.6,1026.6 289.3,1032.2 290.1,1026.6 290.8,1026.6 291.5,1032.2 292.2,1035.0 293.0,1029.4 293.7,1040.6 294.4,1037.8 295.1,1040.6 295.8,1012.6 296.6,1026.6 297.3,1032.2 298.0,1037.8 298.7,1046.2 299.4,1029.4 300.2,1032.2 300.9,1021.0 301.6,1032.2 302.3,1037.8 303.1,1029.4 303.8,1043.4 304.5,1032.2 305.2,1026.6 305.9,1035.0 306.7,1032.2 307.4,1023.8 308.1,1029.4 308.8,1032.2 309.5,1040.6 310.3,1029.4 311.0,1035.0 311.7,1026.6 312.4,1032.2 313.2,1035.0 313.9,1032.2 314.6,1037.8 315.3,1035.0 316.0,1021.0 316.8,1032.2 317.5,1032.2 318.2,1037.8 318.9,1032.2 319.7,1037.8 320.4,1021.0 321.1,1037.8 321.8,1032.2 322.5,1029.4 323.3,1029.4 324.0,1029.4 324.7,1032.2 325.4,1040.6 326.1,1029.4 326.9,1021.0 327.6,1037.8 328.3,1026.6 329.0,1035.0 329.8,1032.2 330.5,1035.0 331.2,1032.2 331.9,1035.0 332.6,1035.0 333.4,1035.0 334.1,1029.4 334.8,1029.4 335.5,1035.0 336.2,1040.6 337.0,1035.0 337.7,1037.8 338.4,1032.2 339.1,1023.8 339.9,1040.6 340.6,1040.6 341.3,1040.6 342.0,1035.0 342.7,1040.6 343.5,1040.6 344.2,1029.4 344.9,1032.2 345.6,1035.0 346.3,1032.2 347.1,1040.6 347.8,1032.2 348.5,1018.2 349.2,1026.6 350.0,1026.6 350.7,1037.8 351.4,1012.6 352.1,1035.0 352.8,1040.6 353.6,1040.6 354.3,1032.2 355.0,1032.2 355.7,1043.4 356.4,1032.2 357.2,1040.6 357.9,1037.8 358.6,1037.8 359.3,1032.2 360.1,1029.4 360.8,1029.4 361.5,1029.4 362.2,1035.0 362.9,1035.0 363.7,1032.2 364.4,1035.0 365.1,1026.6 365.8,1026.6 366.5,1035.0 367.3,1037.8 368.0,1032.2 368.7,1037.8 369.4,1021.0 370.2,1015.4 370.9,1043.4 371.6,1040.6 372.3,1026.6 373.0,1043.4 373.8,1040.6 374.5,1032.2 375.2,1037.8 375.9,1035.0 376.7,1035.0 377.4,1040.6 378.1,1035.0 378.8,1032.2 379.5,1032.2 380.3,1032.2 381.0,1035.0 381.7,1032.2 382.4,1037.8 383.1,1032.2 383.9,1032.2 384.6,1032.2 385.3,1035.0 386.0,1021.0 386.8,1043.4 387.5,1018.2 388.2,1032.2 388.9,1032.2 389.6,1032.2 390.4,1032.2 391.1,1032.2 391.8,1037.8 392.5,1037.8 393.2,1035.0 394.0,1035.0 394.7,1035.0 395.4,1032.2 396.1,1035.0 396.9,1037.8 397.6,1037.8 398.3,1037.8 399.0,1035.0 399.7,1037.8 400.5,1032.2 401.2,1029.4 401.9,1040.6 402.6,1032.2 403.3,1023.8 404.1,1029.4 404.8,1040.6 405.5,1040.6 406.2,1037.8 407.0,1037.8 407.7,1040.6 408.4,1032.2 409.1,1035.0 409.8,1040.6 410.6,1040.6 411.3,1035.0 412.0,1032.2 412.7,1029.4 413.4,1023.8 414.2,1035.0 414.9,1032.2 415.6,1029.4 416.3,1035.0 417.1,1035.0 417.8,1021.0 418.5,1035.0 419.2,1018.2 419.9,1040.6 420.7,1026.6 421.4,1040.6 422.1,1032.2 422.8,1029.4 423.5,1026.6 424.3,1035.0 425.0,1029.4 425.7,1035.0 426.4,1021.0 427.2,1037.8 427.9,1032.2 428.6,1035.0 429.3,1026.6 430.0,1026.6 430.8,1026.6 431.5,1035.0 432.2,1037.8 432.9,1035.0 433.7,1029.4 434.4,1043.4 435.1,1040.6 435.8,1040.6 436.5,1029.4 437.3,1023.8 438.0,1046.2 438.7,1021.0 439.4,1035.0 440.1,1043.4 440.9,1037.8 441.6,1029.4 442.3,1035.0 443.0,1037.8 443.8,1035.0 444.5,1037.8 445.2,1032.2 445.9,1043.4 446.6,1026.6 447.4,1037.8 448.1,1029.4 448.8,1029.4 449.5,1026.6 450.2,1029.4 451.0,1032.2 451.7,1026.6 452.4,1018.2 453.1,1029.4 453.9,1035.0 454.6,1035.0 455.3,1035.0 456.0,1032.2 456.7,1040.6 457.5,1032.2 458.2,1026.6 458.9,1037.8 459.6,1026.6 460.3,1023.8 461.1,1032.2 461.8,1029.4 462.5,1029.4 463.2,1043.4 464.0,1043.4 464.7,1029.4 465.4,1032.2 466.1,1032.2 466.8,1040.6 467.6,1026.6 468.3,1037.8 469.0,1029.4 469.7,1040.6 470.4,1043.4 471.2,1026.6 471.9,1037.8 472.6,1037.8 473.3,1035.0 474.1,1032.2 474.8,1023.8 475.5,1026.6 476.2,1043.4 476.9,1023.8 477.7,1029.4 478.4,1018.2 479.1,1037.8 479.8,1043.4 480.5,1009.8 481.3,1021.0 482.0,1037.8 482.7,1021.0 483.4,1040.6 484.2,1026.6 484.9,1029.4 485.6,1032.2 486.3,1023.8 487.0,1026.6 487.8,1035.0 488.5,1035.0 489.2,1021.0 489.9,1032.2 490.7,1035.0 491.4,1012.6 492.1,1026.6 492.8,1009.8 493.5,1029.4 494.3,1018.2 495.0,1015.4 495.7,1015.4 496.4,1026.6 497.1,1007.0 497.9,1023.8 498.6,990.2 499.3,995.8 500.0,990.2 500.8,959.4 501.5,925.8 502.2,953.8 502.9,931.4 503.6,892.2 504.4,855.8 505.1,850.2 505.8,869.8 506.5,827.8 507.2,777.4 508.0,788.6 508.7,788.6 509.4,813.8 510.1,858.6 510.9,808.2 511.6,881.0 512.3,867.0 513.0,914.6 513.7,906.2 514.5,931.4 515.2,951.0 515.9,965.0 516.6,979.0 517.3,976.2 518.1,990.2 518.8,1012.6 519.5,1007.0 520.2,1004.2 521.0,1026.6 521.7,1015.4 522.4,1021.0 523.1,1012.6 523.8,1018.2 524.6,1015.4 525.3,1021.0 526.0,1037.8 526.7,1021.0 527.4,1037.8 528.2,1023.8 528.9,1032.2 529.6,1023.8 530.3,1029.4 531.1,1023.8 531.8,1029.4 532.5,1023.8 533.2,1035.0 533.9,1032.2 534.7,1023.8 535.4,1037.8 536.1,1032.2 536.8,1032.2 537.5,1035.0 538.3,1032.2 539.0,1026.6 539.7,1029.4 540.4,1032.2 541.2,1032.2 541.9,1037.8 542.6,1032.2 543.3,1032.2 544.0,1029.4 544.8,1032.2 545.5,1043.4 546.2,1026.6 546.9,1026.6 547.7,1032.2 548.4,1032.2 549.1,1040.6 549.8,1032.2 550.5,1026.6 551.3,1037.8 552.0,1037.8 552.7,1043.4 553.4,1021.0 554.1,1032.2 554.9,1043.4 555.6,1040.6 556.3,1026.6 557.0,1026.6 557.8,1029.4 558.5,1032.2 559.2,1037.8 559.9,1043.4 560.6,1035.0 561.4,1037.8 562.1,1035.0 562.8,1037.8 563.5,1043.4 564.2,1032.2 565.0,1040.6 565.7,1023.8 566.4,1040.6 567.1,1040.6 567.9,1037.8 568.6,1035.0 569.3,1032.2 570.0,1043.4 570.7,1021.0 571.5,1035.0 572.2,1029.4 572.9,1037.8 573.6,1037.8 574.3,1040.6 575.1,1043.4 575.8,1026.6 576.5,1043.4 577.2,1040.6 578.0,1032.2 578.7,1032.2 579.4,1037.8 580.1,1032.2 580.8,1040.6 581.6,1037.8 582.3,1032.2 583.0,1035.0 583.7,1037.8 584.4,1032.2 585.2,1029.4 585.9,1026.6 586.6,1037.8 587.3,1040.6 588.1,1035.0 588.8,1029.4 589.5,1043.4 590.2,1037.8 590.9,1035.0 591.7,1035.0 592.4,1032.2 593.1,1035.0 593.8,1043.4 594.6,1043.4 595.3,1035.0 596.0,1035.0 596.7,1043.4 597.4,1035.0 598.2,1040.6 598.9,1032.2 599.6,1026.6 600.3,1032.2 601.0,1032.2 601.8,1029.4 602.5,1035.0 603.2,1029.4 603.9,1035.0 604.7,1043.4 605.4,1026.6 606.1,1037.8 606.8,1029.4 607.5,1043.4 608.3,1043.4 609.0,1043.4 609.7,1035.0 610.4,1026.6 611.1,1040.6 611.9,1040.6 612.6,1035.0 613.3,1035.0 614.0,1029.4 614.8,1029.4 615.5,1035.0 616.2,1035.0 616.9,1023.8 617.6,1040.6 618.4,1035.0 619.1,1035.0 619.8,1046.2 620.5,1032.2 621.2,1037.8 622.0,1029.4 622.7,1032.2 623.4,1037.8 624.1,1029.4 624.9,1037.8 625.6,1037.8 626.3,1040.6 627.0,1029.4 627.7,1037.8 628.5,1040.6 629.2,1015.4 629.9,1046.2 630.6,1035.0 631.3,1040.6 632.1,1037.8 632.8,1029.4 633.5,1029.4 634.2,1043.4 635.0,1035.0 635.7,1035.0 636.4,1029.4 637.1,1026.6 637.8,1012.6 638.6,1035.0 639.3,1032.2 640.0,1032.2 640.7,1032.2 641.4,1029.4 642.2,1026.6 642.9,1032.2 643.6,1021.0 644.3,1026.6 645.1,1035.0 645.8,1021.0 646.5,1021.0 647.2,1032.2 647.9,1023.8 648.7,1018.2 649.4,1037.8 650.1,1032.2 650.8,1035.0 651.6,1035.0 652.3,1032.2 653.0,1029.4 653.7,1029.4 654.4,1023.8 655.2,1029.4 655.9,1026.6 656.6,1032.2 657.3,1021.0 658.0,1035.0 658.8,1018.2 659.5,1026.6 660.2,1035.0 660.9,1023.8 661.7,1021.0 662.4,1007.0 663.1,1018.2 663.8,1015.4 664.5,1029.4 665.3,1035.0 666.0,1021.0 666.7,1004.2 667.4,1029.4 668.1,1023.8 668.9,1037.8 669.6,1026.6 670.3,1037.8 671.0,973.4 671.8,1004.2 672.5,1009.8 673.2,1012.6 673.9,1001.4 674.6,1009.8 675.4,1026.6 676.1,1007.0 676.8,998.6 677.5,1004.2 678.2,998.6 679.0,1007.0 679.7,987.4 680.4,970.6 681.1,984.6 681.9,981.8 682.6,979.0 683.3,987.4 684.0,956.6 684.7,948.2 685.5,945.4 686.2,948.2 686.9,937.0 687.6,878.2 688.3,869.8 689.1,853.0 689.8,895.0 690.5,841.8 691.2,805.4 692.0,746.6 692.7,741.0 693.4,696.2 694.1,637.4 694.8,531.0 695.6,486.2 696.3,477.8 697.0,281.8 697.7,407.8 698.4,200.6 699.2,256.6 699.9,262.2 700.6,211.8 701.3,318.2 702.1,329.4 702.8,396.6 703.5,399.4 704.2,472.2 704.9,491.8 705.7,559.0 706.4,629.0 707.1,637.4 707.8,718.6 708.6,746.6 709.3,799.8 710.0,827.8 710.7,861.4 711.4,872.6 712.2,911.8 712.9,934.2 713.6,931.4 714.3,951.0 715.0,928.6 715.8,925.8 716.5,976.2 717.2,973.4 717.9,981.8 718.7,965.0 719.4,993.0 720.1,984.6 720.8,1007.0 721.5,995.8 722.3,962.2 723.0,973.4 723.7,993.0 724.4,1007.0 725.1,990.2 725.9,1018.2 726.6,1015.4 727.3,1023.8 728.0,1021.0 728.8,1007.0 729.5,1007.0 730.2,1021.0 730.9,1018.2 731.6,1029.4 732.4,1012.6 733.1,1015.4 733.8,1015.4 734.5,995.8 735.2,1023.8 736.0,1007.0 736.7,1007.0 737.4,1012.6 738.1,1012.6 738.9,1021.0 739.6,1015.4 740.3,1012.6 741.0,1012.6 741.7,1023.8 742.5,1015.4 743.2,1029.4 743.9,1026.6 744.6,1032.2 745.3,1032.2 746.1,1018.2 746.8,1018.2 747.5,1007.0 748.2,1007.0 749.0,1029.4 749.7,1004.2 750.4,1023.8 751.1,1004.2 751.8,1018.2 752.6,1021.0 753.3,1001.4 754.0,990.2 754.7,998.6 755.4,1004.2 756.2,1001.4 756.9,998.6 757.6,981.8 758.3,967.8 759.1,998.6 759.8,965.0 760.5,1007.0 761.2,993.0 761.9,1007.0 762.7,993.0 763.4,993.0 764.1,990.2 764.8,1018.2 765.6,1004.2 766.3,1015.4 767.0,1015.4 767.7,1023.8 768.4,1015.4 769.2,1018.2 769.9,1015.4 770.6,1026.6 771.3,1021.0 772.0,1032.2 772.8,1029.4 773.5,1035.0 774.2,1037.8 774.9,1032.2 775.7,1037.8 776.4,1037.8 777.1,1023.8 777.8,1035.0 778.5,1037.8 779.3,1037.8 780.0,1040.6 780.7,1035.0 781.4,1037.8 782.1,1023.8 782.9,1040.6 783.6,1035.0 784.3,1037.8 785.0,1032.2 785.8,1032.2 786.5,1029.4 787.2,1032.2 787.9,1040.6 788.6,1037.8 789.4,1029.4 790.1,1040.6 790.8,1035.0 791.5,1035.0 792.2,1029.4 793.0,1035.0 793.7,1032.2 794.4,1043.4 795.1,1037.8 795.9,1032.2 796.6,1035.0 797.3,1029.4 798.0,1037.8 798.7,1040.6 799.5,1029.4 800.2,1029.4 800.9,1043.4 801.6,1037.8 802.3,1043.4 803.1,1023.8 803.8,1040.6 804.5,1040.6 805.2,1035.0 806.0,1040.6 806.7,1043.4 807.4,1040.6 808.1,1040.6 808.8,1032.2 809.6,1035.0 810.3,1040.6 811.0,1037.8 811.7,1046.2 812.4,1037.8 813.2,1043.4 813.9,1037.8 814.6,1040.6 815.3,1032.2 816.1,1037.8 816.8,1032.2 817.5,1040.6 818.2,1043.4 818.9,1032.2 819.7,1032.2 820.4,1040.6 821.1,1035.0 821.8,1040.6 822.6,1043.4 823.3,1037.8 824.0,1040.6 824.7,1043.4 825.4,1035.0 826.2,1043.4 826.9,1037.8 827.6,1043.4 828.3,1037.8 829.0,1035.0 829.8,1035.0 830.5,1035.0 831.2,1037.8 831.9,1040.6 832.7,1029.4 833.4,1037.8 834.1,1021.0 834.8,1037.8 835.5,1040.6 836.3,1035.0 837.0,1037.8 837.7,1026.6 838.4,1035.0 839.1,1032.2 839.9,1040.6 840.6,1040.6 841.3,1043.4 842.0,1040.6 842.8,1043.4 843.5,1035.0 844.2,1043.4 844.9,1029.4 845.6,1032.2 846.4,1037.8 847.1,1040.6 847.8,1023.8 848.5,1043.4 849.2,1040.6 850.0,1037.8 850.7,1037.8 851.4,1040.6 852.1,1037.8 852.9,1043.4 853.6,1037.8 854.3,1037.8 855.0,1037.8 855.7,1040.6 856.5,1043.4 857.2,1032.2 857.9,1043.4 858.6,1040.6 859.3,1037.8 860.1,1040.6 860.8,1037.8 861.5,1037.8 862.2,1035.0 863.0,1037.8 863.7,1040.6 864.4,1043.4 865.1,1037.8 865.8,1040.6 866.6,1037.8 867.3,1040.6 868.0,1040.6 868.7,1035.0 869.4,1029.4 870.2,1035.0 870.9,1035.0 871.6,1032.2 872.3,1040.6 873.1,1046.2 873.8,1040.6 874.5,1046.2 875.2,1046.2 875.9,1035.0 876.7,1040.6 877.4,1037.8 878.1,1040.6 878.8,1035.0 879.6,1035.0 880.3,1043.4 881.0,1037.8 881.7,1040.6 882.4,1037.8 883.2,1035.0 883.9,1037.8 884.6,1037.8 885.3,1040.6 886.0,1040.6 886.8,1040.6 887.5,1040.6 888.2,1035.0 888.9,1035.0 889.7,1046.2 890.4,1035.0 891.1,1037.8 891.8,1037.8 892.5,1032.2 893.3,1040.6 894.0,1040.6 894.7,1043.4 895.4,1035.0 896.1,1046.2 896.9,1035.0 897.6,1037.8 898.3,1037.8 899.0,1040.6 899.8,1035.0 900.5,1040.6 901.2,1043.4 901.9,1040.6 902.6,1037.8 903.4,1040.6 904.1,1046.2 904.8,1040.6 905.5,1043.4 906.2,1029.4 907.0,1043.4 907.7,1032.2 908.4,1040.6 909.1,1040.6 909.9,1037.8 910.6,1037.8 911.3,1037.8 912.0,1037.8 912.7,1043.4 913.5,1040.6 914.2,1032.2 914.9,1046.2 915.6,1040.6 916.3,1035.0 917.1,1040.6 917.8,1043.4 918.5,1032.2 919.2,1046.2 920.0,1032.2 920.7,1037.8 921.4,1035.0 922.1,1037.8 922.8,1037.8 923.6,1032.2 924.3,1037.8 925.0,1037.8 925.7,1029.4 926.4,1037.8 927.2,1040.6 927.9,1037.8 928.6,1035.0 929.3,1035.0 930.1,1037.8 930.8,1032.2 931.5,1037.8 932.2,1046.2 932.9,1032.2 933.7,1037.8 934.4,1043.4 935.1,1032.2 935.8,1026.6 936.6,1043.4 937.3,1040.6 938.0,1040.6 938.7,1037.8 939.4,1043.4 940.2,1037.8 940.9,1037.8 941.6,1043.4 942.3,1035.0 943.0,1043.4 943.8,1040.6 944.5,1037.8 945.2,1043.4 945.9,1046.2 946.7,1032.2 947.4,1035.0 948.1,1035.0 948.8,1040.6 949.5,1026.6 950.3,1035.0 951.0,1037.8 951.7,1023.8 952.4,1037.8 953.1,1037.8 953.9,1040.6 954.6,1037.8 955.3,1032.2 956.0,1037.8 956.8,1035.0 957.5,1035.0 958.2,1029.4 958.9,1026.6 959.6,1032.2 960.4,1018.2 961.1,1018.2 961.8,1029.4 962.5,1015.4 963.2,1023.8 964.0,1004.2 964.7,1015.4 965.4,993.0 966.1,1007.0 966.9,1023.8 967.6,998.6 968.3,970.6 969.0,993.0 969.7,967.8 970.5,948.2 971.2,917.4 971.9,934.2 972.6,872.6 973.3,920.2 974.1,883.8 974.8,872.6 975.5,861.4 976.2,881.0 977.0,867.0 977.7,889.4 978.4,855.8 979.1,883.8 979.8,931.4 980.6,906.2 981.3,939.8 982.0,875.4 982.7,928.6 983.4,948.2 984.2,937.0 984.9,984.6 985.6,993.0 986.3,945.4 987.1,1004.2 987.8,998.6 988.5,1018.2 989.2,1015.4 989.9,1018.2 990.7,1007.0 991.4,1021.0 992.1,1021.0 992.8,1035.0 993.6,1026.6 994.3,1037.8 995.0,1032.2 995.7,1029.4 996.4,1032.2 997.2,1026.6 997.9,1026.6 998.6,1026.6 999.3,1029.4 1000.0,1035.0 1000.8,1023.8 1001.5,1026.6 1002.2,1037.8 1002.9,1035.0 1003.7,1018.2 1004.4,1032.2 1005.1,1032.2 1005.8,1035.0 1006.5,1035.0 1007.3,1035.0 1008.0,1037.8 1008.7,1043.4 1009.4,1040.6 1010.1,1043.4 1010.9,1040.6 1011.6,1037.8 1012.3,1040.6 1013.0,1037.8 1013.8,1043.4 1014.5,1046.2 1015.2,1037.8 1015.9,1032.2 1016.6,1037.8 1017.4,1043.4 1018.1,1037.8 1018.8,1035.0 1019.5,1043.4 1020.2,1032.2 1021.0,1026.6 1021.7,1043.4 1022.4,1040.6 1023.1,1037.8 1023.9,1037.8 1024.6,1037.8 1025.3,1043.4 1026.0,1037.8 1026.7,1040.6 1027.5,1035.0 1028.2,1040.6 1028.9,1032.2 1029.6,1037.8 1030.3,1023.8 1031.1,1037.8 1031.8,1040.6 1032.5,1032.2 1033.2,1046.2 1034.0,1040.6 1034.7,1040.6 1035.4,1037.8 1036.1,1035.0 1036.8,1043.4 1037.6,1032.2 1038.3,1037.8 1039.0,1037.8 1039.7,1040.6 1040.4,1037.8 1041.2,1040.6 1041.9,1040.6 1042.6,1040.6 1043.3,1043.4 1044.1,1037.8 1044.8,1035.0 1045.5,1037.8 1046.2,1037.8 1046.9,1043.4 1047.7,1035.0 1048.4,1040.6 1049.1,1043.4 1049.8,1046.2 1050.6,1043.4 1051.3,1035.0 1052.0,1040.6 1052.7,1046.2 1053.4,1029.4 1054.2,1043.4 1054.9,1040.6 1055.6,1046.2 1056.3,1035.0 1057.0,1040.6 1057.8,1040.6 1058.5,1037.8 1059.2,1040.6 1059.9,1040.6 1060.7,1035.0 1061.4,1043.4 1062.1,1035.0 1062.8,1040.6 1063.5,1040.6 1064.3,1032.2 1065.0,1040.6 1065.7,1040.6 1066.4,1037.8 1067.1,1043.4 1067.9,1037.8 1068.6,1046.2 1069.3,1037.8 1070.0,1043.4 1070.8,1040.6 1071.5,1046.2 1072.2,1040.6 1072.9,1035.0 1073.6,1043.4 1074.4,1035.0 1075.1,1037.8 1075.8,1040.6 1076.5,1037.8 1077.2,1040.6 1078.0,1040.6 1078.7,1037.8 1079.4,1046.2 1080.1,1046.2 1080.9,1037.8 1081.6,1043.4 1082.3,1043.4 1083.0,1043.4 1083.7,1040.6 1084.5,1032.2 1085.2,1046.2 1085.9,1029.4 1086.6,1043.4 1087.3,1037.8 1088.1,1043.4 1088.8,1043.4 1089.5,1046.2 1090.2,1037.8 1091.0,1035.0 1091.7,1035.0 1092.4,1043.4 1093.1,1037.8 1093.8,1037.8 1094.6,1032.2 1095.3,1040.6 1096.0,1043.4 1096.7,1040.6 1097.4,1040.6 1098.2,1035.0 1098.9,1040.6 1099.6,1040.6 1100.3,1037.8 1101.1,1029.4 1101.8,1037.8 1102.5,1032.2 1103.2,1043.4 1103.9,1032.2 1104.7,1037.8 1105.4,1046.2 1106.1,1043.4 1106.8,1043.4 1107.6,1040.6 1108.3,1043.4 1109.0,1043.4 1109.7,1037.8 1110.4,1037.8 1111.2,1043.4 1111.9,1035.0 1112.6,1037.8 1113.3,1040.6 1114.0,1046.2 1114.8,1046.2 1115.5,1043.4 1116.2,1040.6 1116.9,1046.2 1117.7,1040.6 1118.4,1043.4 1119.1,1040.6 1119.8,1040.6 1120.5,1040.6 1121.3,1043.4 1122.0,1040.6 1122.7,1035.0 1123.4,1043.4 1124.1,1037.8 1124.9,1037.8 1125.6,1037.8 1126.3,1040.6 1127.0,1035.0 1127.8,1040.6 1128.5,1037.8 1129.2,1035.0 1129.9,1046.2 1130.6,1046.2 1131.4,1040.6 1132.1,1029.4 1132.8,1043.4 1133.5,1037.8 1134.2,1035.0 1135.0,1046.2 1135.7,1043.4 1136.4,1043.4 1137.1,1043.4 1137.9,1026.6 1138.6,1043.4 1139.3,1043.4 1140.0,1040.6 1140.7,1037.8 1141.5,1037.8 1142.2,1043.4 1142.9,1035.0 1143.6,1040.6 1144.3,1040.6 1145.1,1040.6 1145.8,1037.8 1146.5,1046.2 1147.2,1043.4 1148.0,1043.4 1148.7,1037.8 1149.4,1035.0 1150.1,1037.8 1150.8,1040.6 1151.6,1037.8 1152.3,1032.2 1153.0,1043.4 1153.7,1046.2 1154.4,1043.4 1155.2,1040.6 1155.9,1043.4 1156.6,1040.6 1157.3,1037.8 1158.1,1043.4 1158.8,1040.6 1159.5,1040.6 1160.2,1035.0 1160.9,1037.8 1161.7,1043.4 1162.4,1043.4 1163.1,1043.4 1163.8,1032.2 1164.6,1037.8 1165.3,1040.6 1166.0,1040.6 1166.7,1037.8 1167.4,1043.4 1168.2,1032.2 1168.9,1043.4 1169.6,1043.4 1170.3,1043.4 1171.0,1043.4 1171.8,1043.4 1172.5,1037.8 1173.2,1043.4 1173.9,1040.6 1174.7,1043.4 1175.4,1043.4 1176.1,1035.0 1176.8,1046.2 1177.5,1035.0 1178.3,1037.8 1179.0,1035.0 1179.7,1040.6 1180.4,1035.0 1181.1,1026.6 1181.9,1037.8 1182.6,1043.4 1183.3,1043.4 1184.0,1043.4 1184.8,1046.2 1185.5,1043.4 1186.2,1037.8 1186.9,1043.4 1187.6,1043.4 1188.4,1040.6 1189.1,1040.6 1189.8,1035.0 1190.5,1046.2 1191.2,1043.4 1192.0,1043.4 1192.7,1040.6 1193.4,1043.4 1194.1,1035.0 1194.9,1037.8 1195.6,1037.8 1196.3,1046.2 1197.0,1040.6 1197.7,1040.6 1198.5,1032.2 1199.2,1040.6 1199.9,1040.6 1200.6,1046.2 1201.3,1040.6 1202.1,1040.6 1202.8,1043.4 1203.5,1046.2 1204.2,1040.6 1205.0,1046.2 1205.7,1043.4 1206.4,1040.6 1207.1,1035.0 1207.8,1037.8 1208.6,1046.2 1209.3,1040.6 1210.0,1040.6 1210.7,1035.0 1211.4,1037.8 1212.2,1035.0 1212.9,1043.4 1213.6,1046.2 1214.3,1043.4 1215.1,1046.2 1215.8,1046.2 1216.5,1040.6 1217.2,1043.4 1217.9,1040.6 1218.7,1043.4 1219.4,1037.8 1220.1,1040.6 1220.8,1046.2 1221.6,1035.0 1222.3,1043.4 1223.0,1046.2 1223.7,1037.8 1224.4,1043.4 1225.2,1043.4 1225.9,1037.8 1226.6,1040.6 1227.3,1037.8 1228.0,1043.4 1228.8,1040.6 1229.5,1040.6 1230.2,1040.6 1230.9,1035.0 1231.7,1043.4 1232.4,1035.0 1233.1,1043.4 1233.8,1043.4 1234.5,1043.4 1235.3,1043.4 1236.0,1046.2 1236.7,1040.6 1237.4,1040.6 1238.1,1040.6 1238.9,1035.0 1239.6,1035.0 1240.3,1046.2 1241.0,1043.4 1241.8,1040.6 1242.5,1040.6 1243.2,1040.6 1243.9,1037.8 1244.6,1035.0 1245.4,1035.0 1246.1,1040.6 1246.8,1040.6 1247.5,1040.6 1248.2,1043.4 1249.0,1046.2 1249.7,1037.8 1250.4,1040.6 1251.1,1046.2 1251.9,1035.0 1252.6,1043.4 1253.3,1043.4 1254.0,1032.2 1254.7,1043.4 1255.5,1035.0 1256.2,1035.0 1256.9,1043.4 1257.6,1032.2 1258.3,1046.2 1259.1,1046.2 1259.8,1040.6 1260.5,1037.8 1261.2,1032.2 1262.0,1046.2 1262.7,1043.4 1263.4,1037.8 1264.1,1043.4 1264.8,1043.4 1265.6,1046.2 1266.3,1040.6 1267.0,1043.4 1267.7,1046.2 1268.4,1043.4 1269.2,1040.6 1269.9,1040.6 1270.6,1040.6 1271.3,1037.8 1272.1,1040.6 1272.8,1043.4 1273.5,1046.2 1274.2,1040.6 1274.9,1046.2 1275.7,1032.2 1276.4,1046.2 1277.1,1043.4 1277.8,1043.4 1278.6,1035.0 1279.3,1037.8 1280.0,1040.6 1280.7,1040.6 1281.4,1035.0 1282.2,1040.6 1282.9,1037.8 1283.6,1035.0 1284.3,1032.2 1285.0,1032.2 1285.8,1043.4 1286.5,1043.4 1287.2,1043.4 1287.9,1043.4 1288.7,1043.4 1289.4,1037.8 1290.1,1032.2 1290.8,1043.4 1291.5,1043.4 1292.3,1043.4 1293.0,1046.2 1293.7,1043.4 1294.4,1040.6 1295.1,1035.0 1295.9,1037.8 1296.6,1043.4 1297.3,1040.6 1298.0,1043.4 1298.8,1040.6 1299.5,1043.4 1300.2,1043.4 1300.9,1035.0 1301.6,1043.4 1302.4,1037.8 1303.1,1040.6 1303.8,1043.4 1304.5,1037.8 1305.2,1040.6 1306.0,1043.4 1306.7,1043.4 1307.4,1035.0 1308.1,1037.8 1308.9,1037.8 1309.6,1043.4 1310.3,1043.4 1311.0,1043.4 1311.7,1040.6 1312.5,1040.6 1313.2,1046.2 1313.9,1032.2 1314.6,1035.0 1315.3,1043.4 1316.1,1043.4 1316.8,1043.4 1317.5,1035.0 1318.2,1040.6 1319.0,1037.8 1319.7,1043.4 1320.4,1035.0 1321.1,1043.4 1321.8,1046.2 1322.6,1043.4 1323.3,1043.4 1324.0,1037.8 1324.7,1040.6 1325.4,1029.4 1326.2,1032.2 1326.9,1043.4 1327.6,1035.0 1328.3,1035.0 1329.1,1035.0 1329.8,1040.6 1330.5,1043.4 1331.2,1037.8 1331.9,1043.4 1332.7,1040.6 1333.4,1032.2 1334.1,1040.6 1334.8,1043.4 1335.6,1032.2 1336.3,1040.6 1337.0,1035.0 1337.7,1032.2 1338.4,1035.0 1339.2,1037.8 1339.9,1040.6 1340.6,1037.8 1341.3,1029.4 1342.0,1035.0 1342.8,1012.6 1343.5,1009.8 1344.2,1026.6 1344.9,990.2 1345.7,990.2 1346.4,981.8 1347.1,1018.2 1347.8,1012.6 1348.5,981.8 1349.3,993.0 1350.0,942.6 1350.7,987.4 1351.4,951.0 1352.1,962.2 1352.9,956.6 1353.6,981.8 1354.3,995.8 1355.0,962.2 1355.8,1007.0 1356.5,987.4 1357.2,990.2 1357.9,1035.0 1358.6,1012.6 1359.4,995.8 1360.1,1018.2 1360.8,1029.4 1361.5,1032.2 1362.2,1043.4 1363.0,1021.0 1363.7,1029.4 1364.4,1037.8 1365.1,1026.6 1365.9,1043.4 1366.6,1026.6 1367.3,1026.6 1368.0,1035.0 1368.7,1037.8 1369.5,1043.4 1370.2,1032.2 1370.9,1029.4 1371.6,1037.8 1372.3,1043.4 1373.1,1037.8 1373.8,1043.4 1374.5,1040.6 1375.2,1035.0 1376.0,1043.4 1376.7,1043.4 1377.4,1032.2 1378.1,1040.6 1378.8,1032.2 1379.6,1037.8 1380.3,1029.4 1381.0,1040.6 1381.7,1040.6 1382.4,1040.6 1383.2,1032.2 1383.9,1040.6 1384.6,1032.2 1385.3,1046.2 1386.1,1035.0 1386.8,1040.6 1387.5,1037.8 1388.2,1040.6 1388.9,1037.8 1389.7,1040.6 1390.4,1043.4 1391.1,1043.4 1391.8,1037.8 1392.6,1023.8 1393.3,1040.6 1394.0,1043.4 1394.7,1040.6 1395.4,1037.8 1396.2,1043.4 1396.9,1043.4 1397.6,1046.2 1398.3,1037.8 1399.0,1043.4 1399.8,1037.8 1400.5,1035.0 1401.2,1035.0 1401.9,1035.0 1402.7,1029.4 1403.4,1037.8 1404.1,1046.2 1404.8,1032.2 1405.5,1040.6 1406.3,1032.2 1407.0,1040.6 1407.7,1037.8 1408.4,1043.4 1409.1,1043.4 1409.9,1040.6 1410.6,1035.0 1411.3,1032.2 1412.0,1037.8 1412.8,1040.6 1413.5,1040.6 1414.2,1040.6 1414.9,1035.0 1415.6,1035.0 1416.4,1035.0 1417.1,1037.8 1417.8,1035.0 1418.5,1035.0 1419.2,1029.4 1420.0,1037.8 1420.7,1037.8 1421.4,1035.0 1422.1,1040.6 1422.9,1040.6 1423.6,1040.6 1424.3,1037.8 1425.0,1040.6 1425.7,1040.6 1426.5,1037.8 1427.2,1035.0 1427.9,1032.2 1428.6,1032.2 1429.3,1032.2 1430.1,1040.6 1430.8,1040.6 1431.5,1037.8 1432.2,1037.8 1433.0,1037.8 1433.7,1043.4 1434.4,1029.4 1435.1,1026.6 1435.8,1037.8 1436.6,1032.2 1437.3,1037.8 1438.0,1035.0 1438.7,1037.8 1439.4,1037.8 1440.2,1043.4 1440.9,1037.8 1441.6,1040.6 1442.3,1040.6 1443.1,1035.0 1443.8,1040.6 1444.5,1043.4 1445.2,1037.8 1445.9,1037.8 1446.7,1032.2 1447.4,1037.8 1448.1,1023.8 1448.8,1040.6 1449.6,1026.6 1450.3,1037.8 1451.0,1032.2 1451.7,1043.4 1452.4,1029.4 1453.2,1026.6 1453.9,1032.2 1454.6,1032.2 1455.3,1015.4 1456.0,1023.8 1456.8,1007.0 1457.5,1029.4 1458.2,1037.8 1458.9,1029.4 1459.7,1023.8 1460.4,1021.0 1461.1,1007.0 1461.8,1015.4 1462.5,1023.8 1463.3,1001.4 1464.0,1015.4 1464.7,1001.4 1465.4,998.6 1466.1,981.8 1466.9,967.8 1467.6,984.6 1468.3,948.2 1469.0,965.0 1469.8,931.4 1470.5,925.8 1471.2,939.8 1471.9,911.8 1472.6,900.6 1473.4,900.6 1474.1,869.8 1474.8,872.6 1475.5,864.2 1476.2,858.6 1477.0,839.0 1477.7,872.6 1478.4,897.8 1479.1,825.0 1479.9,841.8 1480.6,886.6 1481.3,819.4 1482.0,847.4 1482.7,864.2 1483.5,914.6 1484.2,909.0 1484.9,897.8 1485.6,931.4 1486.3,931.4 1487.1,925.8 1487.8,951.0 1488.5,951.0 1489.2,962.2 1490.0,993.0 1490.7,993.0 1491.4,998.6 1492.1,990.2 1492.8,981.8 1493.6,1021.0 1494.3,1001.4 1495.0,1007.0 1495.7,1023.8 1496.5,1015.4 1497.2,1015.4 1497.9,1023.8 1498.6,1023.8 1499.3,1018.2 1500.1,1029.4 1500.8,1029.4 1501.5,1029.4 1502.2,1018.2 1502.9,1029.4 1503.7,1023.8 1504.4,1032.2 1505.1,1037.8 1505.8,1029.4 1506.6,1043.4 1507.3,1018.2 1508.0,1032.2 1508.7,1035.0 1509.4,1040.6 1510.2,1026.6 1510.9,1037.8 1511.6,1037.8 1512.3,1032.2 1513.0,1029.4 1513.8,1032.2 1514.5,1035.0 1515.2,1040.6 1515.9,1040.6 1516.7,1023.8 1517.4,1032.2 1518.1,1026.6 1518.8,1023.8 1519.5,1029.4 1520.3,1023.8 1521.0,1037.8 1521.7,1032.2 1522.4,1037.8 1523.1,1043.4 1523.9,1032.2 1524.6,1032.2 1525.3,1026.6 1526.0,1043.4 1526.8,1026.6 1527.5,1029.4 1528.2,1040.6 1528.9,1037.8 1529.6,1035.0 1530.4,1040.6 1531.1,1035.0 1531.8,1035.0 1532.5,1043.4 1533.2,1040.6 1534.0,1043.4 1534.7,1043.4 1535.4,1040.6 1536.1,1035.0 1536.9,1037.8 1537.6,1040.6 1538.3,1037.8 1539.0,1043.4 1539.7,1043.4 1540.5,1043.4 1541.2,1032.2 1541.9,1035.0 1542.6,1032.2 1543.3,1037.8 1544.1,1043.4 1544.8,1037.8 1545.5,1040.6 1546.2,1040.6 1547.0,1037.8 1547.7,1043.4 1548.4,1035.0 1549.1,1037.8 1549.8,1046.2 1550.6,1029.4 1551.3,1029.4 1552.0,1043.4 1552.7,1037.8 1553.5,1043.4 1554.2,1043.4 1554.9,1035.0 1555.6,1029.4 1556.3,1037.8 1557.1,1037.8 1557.8,1040.6 1558.5,1037.8 1559.2,1040.6 1559.9,1040.6 1560.7,1037.8 1561.4,1035.0 1562.1,1032.2 1562.8,1043.4 1563.6,1037.8 1564.3,1037.8 1565.0,1043.4 1565.7,1035.0 1566.4,1040.6 1567.2,1035.0 1567.9,1043.4 1568.6,1037.8 1569.3,1035.0 1570.0,1043.4 1570.8,1043.4 1571.5,1043.4 1572.2,1035.0 1572.9,1029.4 1573.7,1043.4 1574.4,1046.2 1575.1,1032.2 1575.8,1032.2 1576.5,1035.0 1577.3,1046.2 1578.0,1040.6 1578.7,1040.6 1579.4,1040.6 1580.1,1043.4 1580.9,1037.8 1581.6,1037.8 1582.3,1043.4 1583.0,1037.8 1583.8,1043.4 1584.5,1035.0 1585.2,1040.6 1585.9,1040.6 1586.6,1035.0 1587.4,1043.4 1588.1,1032.2 1588.8,1046.2 1589.5,1043.4 1590.2,1029.4 1591.0,1040.6 1591.7,1037.8 1592.4,1032.2 1593.1,1040.6 1593.9,1040.6 1594.6,1032.2 1595.3,1043.4 1596.0,1040.6 1596.7,1037.8 1597.5,1037.8 1598.2,1035.0 1598.9,1035.0 1599.6,1037.8 1600.3,1040.6 1601.1,1040.6 1601.8,1037.8 1602.5,1037.8 1603.2,1040.6 1604.0,1043.4 1604.7,1040.6 1605.4,1037.8 1606.1,1040.6 1606.8,1032.2 1607.6,1040.6 1608.3,1035.0 1609.0,1040.6 1609.7,1043.4 1610.5,1040.6 1611.2,1037.8 1611.9,1029.4 1612.6,1037.8 1613.3,1043.4 1614.1,1043.4 1614.8,1040.6 1615.5,1043.4 1616.2,1040.6 1616.9,1046.2 1617.7,1037.8 1618.4,1040.6 1619.1,1043.4 1619.8,1029.4 1620.6,1035.0 1621.3,1040.6 1622.0,1043.4 1622.7,1040.6 1623.4,1037.8 1624.2,1032.2 1624.9,1037.8 1625.6,1043.4 1626.3,1043.4 1627.0,1043.4 1627.8,1035.0 1628.5,1040.6 1629.2,1040.6 1629.9,1040.6 1630.7,1035.0 1631.4,1043.4 1632.1,1043.4 1632.8,1040.6 1633.5,1040.6 1634.3,1035.0 1635.0,1035.0 1635.7,1035.0 1636.4,1035.0 1637.1,1032.2 1637.9,1029.4 1638.6,1029.4 1639.3,1032.2 1640.0,1037.8 1640.8,1032.2 1641.5,1035.0 1642.2,1037.8 1642.9,1037.8 1643.6,1023.8 1644.4,1026.6 1645.1,1037.8 1645.8,1037.8 1646.5,1043.4 1647.2,1035.0 1648.0,1032.2 1648.7,1021.0 1649.4,1037.8 1650.1,1040.6 1650.9,1032.2 1651.6,1035.0 1652.3,1035.0 1653.0,1040.6 1653.7,1032.2 1654.5,1026.6 1655.2,1026.6 1655.9,1015.4 1656.6,1032.2 1657.3,1021.0 1658.1,1029.4 1658.8,1015.4 1659.5,1018.2 1660.2,1009.8 1661.0,1023.8 1661.7,1037.8 1662.4,1012.6 1663.1,1007.0 1663.8,1015.4 1664.6,1001.4 1665.3,1018.2 1666.0,1012.6 1666.7,1004.2 1667.5,998.6 1668.2,993.0 1668.9,1001.4 1669.6,967.8 1670.3,925.8 1671.1,931.4 1671.8,914.6 1672.5,942.6 1673.2,900.6 1673.9,897.8 1674.7,906.2 1675.4,861.4 1676.1,844.6 1676.8,844.6 1677.6,825.0 1678.3,791.4 1679.0,771.8 1679.7,811.0 1680.4,780.2 1681.2,780.2 1681.9,766.2 1682.6,746.6 1683.3,763.4 1684.0,774.6 1684.8,757.8 1685.5,808.2 1686.2,844.6 1686.9,847.4 1687.7,847.4 1688.4,836.2 1689.1,892.2 1689.8,883.8 1690.5,872.6 1691.3,914.6 1692.0,906.2 1692.7,942.6 1693.4,925.8 1694.1,923.0 1694.9,937.0 1695.6,970.6 1696.3,981.8 1697.0,984.6 1697.8,984.6 1698.5,990.2 1699.2,995.8 1699.9,993.0 1700.6,1012.6 1701.4,1026.6 1702.1,998.6 1702.8,1004.2 1703.5,1009.8 1704.2,1015.4 1705.0,1012.6 1705.7,1018.2 1706.4,1012.6 1707.1,1021.0 1707.9,1029.4 1708.6,1032.2 1709.3,1018.2 1710.0,1029.4 1710.7,1026.6 1711.5,1021.0 1712.2,1035.0 1712.9,1023.8 1713.6,1032.2 1714.3,1032.2 1715.1,1032.2 1715.8,1026.6 1716.5,1032.2 1717.2,1037.8 1718.0,1037.8 1718.7,1037.8 1719.4,1040.6 1720.1,1040.6 1720.8,1029.4 1721.6,1035.0 1722.3,1040.6 1723.0,1040.6 1723.7,1023.8 1724.5,1037.8 1725.2,1040.6 1725.9,1035.0 1726.6,1043.4 1727.3,1037.8 1728.1,1035.0 1728.8,1021.0 1729.5,1035.0 1730.2,1043.4 1730.9,1032.2 1731.7,1040.6 1732.4,1037.8 1733.1,1040.6 1733.8,1040.6 1734.6,1037.8 1735.3,1043.4 1736.0,1037.8 1736.7,1035.0 1737.4,1037.8 1738.2,1043.4 1738.9,1037.8 1739.6,1043.4 1740.3,1037.8 1741.0,1040.6 1741.8,1040.6 1742.5,1040.6 1743.2,1037.8 1743.9,1040.6 1744.7,1040.6 1745.4,1035.0 1746.1,1040.6 1746.8,1043.4 1747.5,1035.0 1748.3,1032.2 1749.0,1040.6 1749.7,1035.0 1750.4,1040.6 1751.1,1032.2 1751.9,1040.6 1752.6,1035.0 1753.3,1040.6 1754.0,1046.2 1754.8,1046.2 1755.5,1040.6 1756.2,1037.8 1756.9,1035.0 1757.6,1043.4 1758.4,1043.4 1759.1,1037.8 1759.8,1035.0 1760.5,1043.4 1761.2,1040.6 1762.0,1037.8 1762.7,1032.2 1763.4,1035.0 1764.1,1037.8 1764.9,1043.4 1765.6,1043.4 1766.3,1040.6 1767.0,1043.4 1767.7,1040.6 1768.5,1040.6 1769.2,1040.6 1769.9,1035.0 1770.6,1043.4 1771.3,1040.6 1772.1,1040.6 1772.8,1043.4 1773.5,1040.6 1774.2,1037.8 1775.0,1037.8 1775.7,1046.2 1776.4,1037.8 1777.1,1037.8 1777.8,1035.0 1778.6,1040.6 1779.3,1040.6 1780.0,1043.4 1780.7,1040.6 1781.5,1035.0 1782.2,1035.0 1782.9,1043.4 1783.6,1037.8 1784.3,1035.0 1785.1,1037.8 1785.8,1035.0 1786.5,1029.4 1787.2,1046.2 1787.9,1032.2 1788.7,1037.8 1789.4,1029.4 1790.1,1032.2 1790.8,1040.6 1791.6,1029.4 1792.3,1032.2 1793.0,1032.2 1793.7,1035.0 1794.4,1040.6 1795.2,1032.2 1795.9,1035.0 1796.6,1040.6 1797.3,1035.0 1798.0,1037.8 1798.8,1037.8 1799.5,1035.0 1800.2,1043.4 1800.9,1037.8 1801.7,1032.2 1802.4,1037.8 1803.1,1029.4 1803.8,1043.4 1804.5,1043.4 1805.3,1040.6 1806.0,1040.6 1806.7,1035.0 1807.4,1037.8 1808.1,1046.2 1808.9,1040.6 1809.6,1043.4 1810.3,1043.4 1811.0,1040.6 1811.8,1035.0 1812.5,1043.4 1813.2,1046.2 1813.9,1037.8 1814.6,1040.6 1815.4,1043.4 1816.1,1040.6 1816.8,1046.2 1817.5,1043.4 1818.2,1035.0 1819.0,1037.8 1819.7,1043.4 1820.4,1037.8 1821.1,1040.6 1821.9,1035.0 1822.6,1035.0 1823.3,1043.4 1824.0,1043.4 1824.7,1040.6 1825.5,1037.8 1826.2,1043.4 1826.9,1032.2 1827.6,1040.6 1828.3,1046.2 1829.1,1043.4 1829.8,1040.6 1830.5,1040.6 1831.2,1040.6 1832.0,1040.6 1832.7,1043.4 1833.4,1043.4 1834.1,1046.2 1834.8,1043.4 1835.6,1043.4 1836.3,1040.6 1837.0,1035.0 1837.7,1043.4 1838.5,1037.8 1839.2,1046.2 1839.9,1046.2 1840.6,1040.6 1841.3,1043.4 1842.1,1040.6 1842.8,1037.8 1843.5,1046.2 1844.2,1037.8 1844.9,1043.4 1845.7,1043.4 1846.4,1040.6 1847.1,1040.6 1847.8,1043.4 1848.6,1043.4 1849.3,1040.6 1850.0,1043.4 1850.7,1040.6 1851.4,1040.6 1852.2,1037.8 1852.9,1043.4 1853.6,1046.2 1854.3,1040.6 1855.0,1037.8 1855.8,1040.6 1856.5,1040.6 1857.2,1043.4 1857.9,1043.4 1858.7,1040.6 1859.4,1035.0 1860.1,1040.6 1860.8,1043.4 1861.5,1035.0 1862.3,1040.6 1863.0,1040.6 1863.7,1043.4 1864.4,1043.4 1865.1,1040.6 1865.9,1035.0 1866.6,1043.4 1867.3,1040.6 1868.0,1046.2 1868.8,1037.8 1869.5,1046.2 1870.2,1043.4 1870.9,1046.2 1871.6,1035.0 1872.4,1043.4 1873.1,1043.4 1873.8,1040.6 1874.5,1037.8 1875.2,1040.6 1876.0,1035.0 1876.7,1046.2 1877.4,1040.6 1878.1,1040.6 1878.9,1037.8 1879.6,1046.2 1880.3,1046.2 1881.0,1040.6 1881.7,1037.8 1882.5,1037.8 1883.2,1040.6 1883.9,1046.2 1884.6,1040.6 1885.3,1037.8 1886.1,1040.6 1886.8,1043.4 1887.5,1040.6 1888.2,1037.8 1889.0,1040.6 1889.7,1046.2 1890.4,1040.6 1891.1,1040.6 1891.8,1043.4 1892.6,1046.2 1893.3,1043.4 1894.0,1040.6 1894.7,1040.6 1895.5,1037.8 1896.2,1040.6 1896.9,1037.8 1897.6,1043.4 1898.3,1040.6 1899.1,1040.6 1899.8,1043.4 1900.5,1043.4 1901.2,1043.4 1901.9,1032.2 1902.7,1035.0 1903.4,1046.2 1904.1,1043.4 1904.8,1043.4 1905.6,1037.8 1906.3,1046.2 1907.0,1037.8 1907.7,1040.6 1908.4,1043.4 1909.2,1046.2 1909.9,1043.4 1910.6,1043.4 1911.3,1043.4 1912.0,1043.4 1912.8,1040.6 1913.5,1043.4 1914.2,1043.4 1914.9,1035.0 1915.7,1043.4 1916.4,1040.6 1917.1,1040.6 1917.8,1046.2 1918.5,1046.2 1919.3,1043.4 1920.0,1035.0 1920.7,1037.8 1921.4,1035.0 1922.1,1043.4 1922.9,1043.4 1923.6,1043.4 1924.3,1046.2 1925.0,1043.4 1925.8,1040.6 1926.5,1046.2 1927.2,1046.2 1927.9,1035.0 1928.6,1040.6 1929.4,1040.6 1930.1,1040.6 1930.8,1035.0 1931.5,1043.4 1932.2,1043.4 1933.0,1037.8 1933.7,1032.2 1934.4,1046.2 1935.1,1035.0 1935.9,1043.4 1936.6,1040.6 1937.3,1040.6 1938.0,1043.4 1938.7,1043.4 1939.5,1046.2 1940.2,1043.4 1940.9,1040.6 1941.6,1043.4 1942.3,1043.4 1943.1,1046.2 1943.8,1040.6 1944.5,1037.8 1945.2,1046.2 1946.0,1040.6 1946.7,1040.6 1947.4,1040.6"/>
<path class="c" stroke="#00f" d="M143.6,817.8 144.3,825.6 145.0,826.3 145.8,834.6 146.5,824.6 147.2,825.8 147.9,826.6 148.7,823.4 149.4,823.1 150.1,828.7 150.8,828.0 151.5,826.5 152.3,822.2 153.0,822.7 153.7,829.7 154.4,829.0 155.1,822.1 155.9,819.0 156.6,825.0 157.3,827.5 158.0,820.8 158.8,826.1 159.5,822.3 160.2,819.2 160.9,822.7 161.6,824.8 162.4,822.4 163.1,827.5 163.8,825.8 164.5,827.3 165.2,826.0 166.0,827.0 166.7,825.9 167.4,826.7 168.1,825.0 168.9,825.1 169.6,824.3 170.3,820.2 171.0,831.1 171.7,820.6 172.5,826.3 173.2,830.0 173.9,826.1 174.6,825.2 175.3,821.6 176.1,829.5 176.8,824.8 177.5,825.2 178.2,831.8 179.0,830.0 179.7,823.5 180.4,823.2 181.1,821.8 181.8,823.8 182.6,824.4 183.3,825.4 184.0,821.5 184.7,829.0 185.4,826.4 186.2,824.5 186.9,831.7 187.6,821.2 188.3,828.9 189.1,826.3 189.8,818.2 190.5,829.1 191.2,828.0 191.9,820.5 192.7,830.1 193.4,827.8 194.1,824.4 194.8,824.6 195.5,824.1 196.3,825.0 197.0,821.5 197.7,822.7 198.4,824.2 199.2,828.8 199.9,829.0 200.6,833.3 201.3,824.0 202.0,833.0 202.8,823.4 203.5,819.9 204.2,830.4 204.9,829.0 205.7,828.3 206.4,823.7 207.1,829.7 207.8,827.2 208.5,828.6 209.3,827.6 210.0,822.2 210.7,830.2 211.4,826.6 212.1,825.9 212.9,823.8 213.6,831.4 214.3,823.0 215.0,825.4 215.8,823.9 216.5,826.7 217.2,832.8 217.9,829.3 218.6,824.2 219.4,827.0 220.1,827.3 220.8,820.9 221.5,819.5 222.2,827.3 223.0,820.5 223.7,834.2 224.4,834.4 225.1,824.3 225.9,828.2 226.6,825.3 227.3,825.6 228.0,827.7 228.7,825.1 229.5,826.9 230.2,832.8 230.9,826.7 231.6,826.9 232.3,821.2 233.1,831.5 233.8,827.5 234.5,829.1 235.2,828.1 236.0,822.0 236.7,812.4 237.4,829.3 238.1,827.2 238.8,825.1 239.6,831.2 240.3,828.7 241.0,822.6 241.7,824.9 242.4,828.1 243.2,829.6 243.9,828.5 244.6,833.3 245.3,824.8 246.1,826.9 246.8,827.6 247.5,832.5 248.2,830.5 248.9,826.4 249.7,827.3 250.4,829.9 251.1,826.5 251.8,825.1 252.5,830.5 253.3,830.1 254.0,831.2 254.7,832.2 255.4,825.7 256.2,826.7 256.9,827.3 257.6,832.4 258.3,831.9 259.0,828.7 259.8,829.9 260.5,828.1 261.2,830.9 261.9,826.4 262.7,822.7 263.4,823.5 264.1,823.4 264.8,828.5 265.5,825.7 266.3,830.0 267.0,825.8 267.7,830.0 268.4,830.4 269.1,830.9 269.9,826.6 270.6,828.0 271.3,828.3 272.0,832.6 272.8,828.5 273.5,833.6 274.2,824.3 274.9,829.5 275.6,828.4 276.4,829.4 277.1,834.2 277.8,833.5 278.5,829.3 279.2,824.5 280.0,832.7 280.7,831.5 281.4,829.4 282.1,834.6 282.9,834.6 283.6,830.6 284.3,829.5 285.0,830.6 285.7,824.6 286.5,830.0 287.2,828.3 287.9,824.5 288.6,824.2 289.3,834.4 290.1,830.7 290.8,826.0 291.5,833.8 292.2,832.5 293.0,833.6 293.7,833.8 294.4,833.2 295.1,829.2 295.8,825.9 296.6,825.2 297.3,829.8 298.0,835.8 298.7,830.0 299.4,830.9 300.2,828.9 300.9,830.3 301.6,835.3 302.3,828.7 303.1,836.1 303.8,832.1 304.5,829.1 305.2,829.0 305.9,825.4 306.7,837.0 307.4,829.1 308.1,828.1 308.8,831.1 309.5,828.3 310.3,833.4 311.0,828.3 311.7,828.7 312.4,833.1 313.2,832.2 313.9,830.8 314.6,832.2 315.3,827.3 316.0,829.8 316.8,826.6 317.5,827.0 318.2,830.2 318.9,831.0 319.7,833.1 320.4,832.7 321.1,832.7 321.8,829.5 322.5,833.0 323.3,830.3 324.0,830.0 324.7,832.0 325.4,831.1 326.1,826.6 326.9,826.1 327.6,832.8 328.3,831.2 329.0,831.7 329.8,831.5 330.5,826.5 331.2,828.8 331.9,827.3 332.6,825.9 333.4,832.0 334.1,831.3 334.8,830.7 335.5,828.1 336.2,831.1 337.0,829.1 337.7,827.7 338.4,827.8 339.1,829.7 339.9,833.1 340.6,835.1 341.3,828.0 342.0,829.8 342.7,833.5 343.5,832.4 344.2,832.3 344.9,835.5 345.6,830.4 346.3,833.2 347.1,831.9 347.8,829.2 348.5,831.4 349.2,829.8 350.0,830.1 350.7,831.2 351.4,831.1 352.1,826.4 352.8,831.7 353.6,827.1 354.3,833.7 355.0,829.5 355.7,830.9 356.4,833.3 357.2,838.2 357.9,827.3 358.6,834.4 359.3,833.9 360.1,831.1 360.8,831.3 361.5,830.8 362.2,832.2 362.9,835.4 363.7,829.3 364.4,833.9 365.1,831.0 365.8,830.2 366.5,828.6 367.3,832.2 368.0,832.5 368.7,832.3 369.4,836.4 370.2,833.6 370.9,834.3 371.6,834.7 372.3,831.4 373.0,832.6 373.8,827.8 374.5,828.1 375.2,836.6 375.9,831.6 376.7,834.4 377.4,830.5 378.1,831.5 378.8,829.6 379.5,831.2 380.3,830.1 381.0,832.7 381.7,838.3 382.4,835.0 383.1,834.2 383.9,833.3 384.6,834.6 385.3,828.0 386.0,832.5 386.8,828.9 387.5,833.0 388.2,828.1 388.9,835.2 389.6,830.7 390.4,835.5 391.1,831.1 391.8,828.3 392.5,836.3 393.2,834.5 394.0,831.7 394.7,832.8 395.4,835.7 396.1,829.5 396.9,832.2 397.6,829.2 398.3,831.6 399.0,835.3 399.7,833.6 400.5,829.1 401.2,835.9 401.9,833.6 402.6,831.0 403.3,830.0 404.1,830.5 404.8,836.2 405.5,827.5 406.2,833.0 407.0,832.6 407.7,832.6 408.4,833.2 409.1,835.0 409.8,833.5 410.6,829.5 411.3,836.0 412.0,838.6 412.7,831.4 413.4,831.9 414.2,831.0 414.9,828.6 415.6,834.5 416.3,832.4 417.1,831.6 417.8,829.9 418.5,830.4 419.2,834.9 419.9,836.2 420.7,833.5 421.4,836.8 422.1,830.3 422.8,833.9 423.5,833.8 424.3,835.1 425.0,829.4 425.7,832.3 426.4,834.0 427.2,831.6 427.9,833.2 428.6,831.6 429.3,829.9 430.0,833.7 430.8,831.9 431.5,832.0 432.2,830.4 432.9,831.7 433.7,833.0 434.4,834.6 435.1,832.5 435.8,835.6 436.5,831.6 437.3,833.0 438.0,831.9 438.7,834.4 439.4,835.1 440.1,835.3 440.9,830.6 441.6,833.7 442.3,833.8 443.0,837.4 443.8,833.4 444.5,841.3 445.2,830.1 445.9,833.8 446.6,833.2 447.4,836.6 448.1,835.8 448.8,831.9 449.5,833.7 450.2,832.3 451.0,830.3 451.7,831.7 452.4,837.6 453.1,835.5 453.9,835.9 454.6,835.4 455.3,838.1 456.0,838.0 456.7,834.9 457.5,834.6 458.2,832.0 458.9,833.9 459.6,829.9 460.3,837.4 461.1,836.4 461.8,832.5 462.5,833.7 463.2,835.4 464.0,831.3 464.7,830.5 465.4,830.0 466.1,833.9 466.8,832.9 467.6,832.3 468.3,832.6 469.0,830.3 469.7,833.8 470.4,831.7 471.2,837.6 471.9,830.6 472.6,828.5 473.3,832.3 474.1,829.7 474.8,835.9 475.5,832.6 476.2,835.3 476.9,830.8 477.7,830.2 478.4,834.5 479.1,833.0 479.8,832.2 480.5,824.9 481.3,830.6 482.0,829.8 482.7,829.0 483.4,828.8 484.2,829.7 484.9,831.9 485.6,829.8 486.3,823.8 487.0,826.5 487.8,827.3 488.5,828.9 489.2,824.9 489.9,823.6 490.7,823.9 491.4,818.4 492.1,819.8 492.8,815.8 493.5,809.3 494.3,805.6 495.0,796.2 495.7,790.8 496.4,779.7 497.1,762.4 497.9,745.7 498.6,722.1 499.3,702.3 500.0,680.5 500.8,656.2 501.5,636.3 502.2,631.2 502.9,623.8 503.6,632.1 504.4,642.7 505.1,672.2 505.8,691.4 506.5,724.3 507.2,742.5 508.0,758.3 508.7,778.4 509.4,787.0 510.1,805.5 510.9,807.2 511.6,812.2 512.3,816.8 513.0,823.1 513.7,819.8 514.5,828.8 515.2,822.1 515.9,824.8 516.6,824.0 517.3,827.7 518.1,830.4 518.8,829.5 519.5,829.9 520.2,827.8 521.0,830.4 521.7,829.0 522.4,829.2 523.1,827.3 523.8,835.5 524.6,832.0 525.3,829.7 526.0,829.9 526.7,833.0 527.4,832.5 528.2,832.2 528.9,831.8 529.6,833.6 530.3,833.9 531.1,835.1 531.8,833.4 532.5,829.4 533.2,834.9 533.9,830.6 534.7,828.4 535.4,832.5 536.1,827.6 536.8,833.4 537.5,829.3 538.3,833.3 539.0,836.0 539.7,832.5 540.4,829.0 541.2,834.7 541.9,832.3 542.6,835.7 543.3,835.5 544.0,832.5 544.8,834.0 545.5,832.3 546.2,830.7 546.9,836.4 547.7,835.2 548.4,833.6 549.1,828.4 549.8,834.5 550.5,834.9 551.3,832.8 552.0,828.9 552.7,835.1 553.4,834.5 554.1,833.7 554.9,832.1 555.6,828.8 556.3,836.7 557.0,837.7 557.8,833.5 558.5,832.7 559.2,839.0 559.9,835.3 560.6,831.7 561.4,835.1 562.1,832.8 562.8,833.5 563.5,832.5 564.2,833.0 565.0,833.4 565.7,831.1 566.4,835.3 567.1,833.7 567.9,831.4 568.6,835.3 569.3,834.9 570.0,835.7 570.7,836.2 571.5,829.4 572.2,832.9 572.9,829.7 573.6,832.3 574.3,833.9 575.1,834.7 575.8,833.4 576.5,834.1 577.2,832.0 578.0,836.0 578.7,833.7 579.4,833.0 580.1,834.6 580.8,834.6 581.6,832.8 582.3,832.8 583.0,834.3 583.7,834.1 584.4,835.4 585.2,832.8 585.9,834.4 586.6,837.7 587.3,834.8 588.1,832.7 588.8,833.5 589.5,836.1 590.2,832.4 590.9,832.7 591.7,832.7 592.4,830.6 593.1,834.9 593.8,832.8 594.6,834.7 595.3,831.9 596.0,831.5 596.7,833.0 597.4,832.5 598.2,836.0 598.9,832.7 599.6,836.9 600.3,829.2 601.0,831.5 601.8,837.7 602.5,840.3 603.2,831.2 603.9,836.2 604.7,833.0 605.4,837.2 606.1,834.0 606.8,835.7 607.5,832.8 608.3,835.0 609.0,830.8 609.7,835.9 610.4,831.3 611.1,834.2 611.9,833.0 612.6,837.8 613.3,838.2 614.0,831.7 614.8,837.0 615.5,834.9 616.2,834.9 616.9,836.2 617.6,833.6 618.4,837.3 619.1,836.8 619.8,832.0 620.5,835.9 621.2,832.4 622.0,832.5 622.7,830.6 623.4,833.0 624.1,838.2 624.9,835.5 625.6,834.9 626.3,831.1 627.0,833.1 627.7,835.0 628.5,832.9 629.2,834.7 629.9,832.6 630.6,833.5 631.3,831.3 632.1,833.0 632.8,831.5 633.5,833.8 634.2,832.1 635.0,834.0 635.7,832.2 636.4,833.1 637.1,833.9 637.8,834.5 638.6,834.1 639.3,832.4 640.0,838.7 640.7,830.5 641.4,838.8 642.2,833.7 642.9,834.0 643.6,831.5 644.3,832.6 645.1,833.2 645.8,832.9 646.5,830.8 647.2,827.5 647.9,832.0 648.7,837.5 649.4,833.7 650.1,831.7 650.8,824.9 651.6,834.3 652.3,833.3 653.0,831.0 653.7,831.5 654.4,835.2 655.2,829.8 655.9,835.0 656.6,832.4 657.3,828.6 658.0,834.6 658.8,832.2 659.5,827.4 660.2,831.7 660.9,833.4 661.7,832.1 662.4,828.7 663.1,834.1 663.8,831.7 664.5,833.4 665.3,832.5 666.0,826.5 666.7,829.4 667.4,830.0 668.1,827.6 668.9,830.0 669.6,830.8 670.3,824.8 671.0,825.0 671.8,828.7 672.5,824.5 673.2,822.1 673.9,823.8 674.6,823.2 675.4,826.7 676.1,823.2 676.8,826.6 677.5,818.3 678.2,820.4 679.0,815.5 679.7,819.4 680.4,813.8 681.1,818.2 681.9,813.1 682.6,808.2 683.3,805.5 684.0,802.5 684.7,801.6 685.5,786.2 686.2,778.4 686.9,763.8 687.6,746.1 688.3,727.9 689.1,695.2 689.8,648.2 690.5,615.9 691.2,555.2 692.0,496.8 692.7,414.9 693.4,350.5 694.1,285.7 694.8,217.0 695.6,169.2 696.3,141.6 697.0,135.5 697.7,141.5 698.4,191.4 699.2,249.5 699.9,332.7 700.6,406.4 701.3,475.4 702.1,559.8 702.8,619.7 703.5,660.4 704.2,695.5 704.9,737.7 705.7,763.0 706.4,775.2 707.1,787.6 707.8,793.1 708.6,804.3 709.3,806.7 710.0,810.3 710.7,816.4 711.4,818.6 712.2,815.3 712.9,816.6 713.6,821.4 714.3,816.7 715.0,819.4 715.8,821.6 716.5,822.1 717.2,823.5 717.9,823.3 718.7,823.6 719.4,826.1 720.1,831.8 720.8,827.7 721.5,829.8 722.3,831.0 723.0,827.1 723.7,833.1 724.4,827.2 725.1,831.0 725.9,832.7 726.6,832.1 727.3,824.7 728.0,827.0 728.8,831.3 729.5,828.3 730.2,826.8 730.9,833.2 731.6,832.0 732.4,829.2 733.1,830.6 733.8,832.5 734.5,827.9 735.2,830.6 736.0,830.0 736.7,826.3 737.4,830.8 738.1,825.7 738.9,831.3 739.6,832.4 740.3,831.7 741.0,829.9 741.7,830.3 742.5,830.9 743.2,835.2 743.9,834.1 744.6,832.0 745.3,829.3 746.1,827.3 746.8,836.0 747.5,829.9 748.2,829.6 749.0,827.1 749.7,824.0 750.4,823.3 751.1,819.9 751.8,807.8 752.6,801.1 753.3,796.1 754.0,787.1 754.7,782.2 755.4,781.1 756.2,776.0 756.9,784.2 757.6,791.8 758.3,797.5 759.1,798.6 759.8,808.4 760.5,814.6 761.2,819.5 761.9,821.2 762.7,824.2 763.4,831.1 764.1,829.9 764.8,831.9 765.6,830.5 766.3,831.8 767.0,836.8 767.7,829.7 768.4,832.1 769.2,837.0 769.9,830.5 770.6,833.0 771.3,832.4 772.0,833.6 772.8,833.4 773.5,835.1 774.2,837.9 774.9,835.6 775.7,833.8 776.4,834.2 777.1,832.9 777.8,834.7 778.5,839.7 779.3,832.9 780.0,836.5 780.7,837.8 781.4,835.5 782.1,838.0 782.9,834.0 783.6,837.0 784.3,830.5 785.0,835.6 785.8,836.3 786.5,836.6 787.2,840.1 787.9,837.1 788.6,836.9 789.4,835.9 790.1,840.3 790.8,835.1 791.5,832.3 792.2,836.3 793.0,835.4 793.7,834.3 794.4,837.2 795.1,836.4 795.9,833.2 796.6,834.9 797.3,838.2 798.0,839.5 798.7,830.1 799.5,834.4 800.2,839.1 800.9,835.1 801.6,833.9 802.3,835.2 803.1,839.8 803.8,831.3 804.5,834.1 805.2,835.9 806.0,833.9 806.7,836.0 807.4,836.3 808.1,833.5 808.8,840.1 809.6,833.2 810.3,834.6 811.0,833.8 811.7,833.4 812.4,832.0 813.2,832.2 813.9,833.5 814.6,836.5 815.3,834.0 816.1,836.7 816.8,837.8 817.5,834.5 818.2,834.8 818.9,832.9 819.7,840.5 820.4,834.2 821.1,834.1 821.8,835.3 822.6,832.2 823.3,837.6 824.0,834.8 824.7,836.5 825.4,835.7 826.2,837.9 826.9,836.0 827.6,834.1 828.3,835.4 829.0,834.9 829.8,837.4 830.5,832.0 831.2,837.3 831.9,835.6 832.7,834.3 833.4,836.1 834.1,834.0 834.8,835.3 835.5,831.8 836.3,834.5 837.0,834.8 837.7,837.6 838.4,834.7 839.1,833.4 839.9,834.8 840.6,837.9 841.3,837.0 842.0,836.3 842.8,835.7 843.5,838.9 844.2,831.5 844.9,836.0 845.6,835.6 846.4,836.8 847.1,835.9 847.8,831.5 848.5,838.0 849.2,837.0 850.0,838.2 850.7,837.1 851.4,832.4 852.1,837.3 852.9,836.9 853.6,840.0 854.3,836.7 855.0,835.4 855.7,837.0 856.5,836.8 857.2,834.1 857.9,834.7 858.6,836.2 859.3,837.7 860.1,839.4 860.8,832.1 861.5,839.5 862.2,834.5 863.0,836.4 863.7,837.6 864.4,834.0 865.1,837.6 865.8,833.1 866.6,838.3 867.3,834.9 868.0,833.1 868.7,838.2 869.4,831.2 870.2,834.0 870.9,841.0 871.6,832.8 872.3,831.7 873.1,836.6 873.8,836.4 874.5,835.2 875.2,840.3 875.9,835.7 876.7,833.9 877.4,837.3 878.1,833.5 878.8,831.0 879.6,840.5 880.3,840.1 881.0,837.6 881.7,834.6 882.4,835.2 883.2,838.1 883.9,838.6 884.6,837.7 885.3,832.2 886.0,838.2 886.8,837.4 887.5,833.9 888.2,836.7 888.9,838.3 889.7,832.8 890.4,835.3 891.1,837.6 891.8,836.9 892.5,833.9 893.3,836.9 894.0,835.5 894.7,834.0 895.4,833.8 896.1,840.2 896.9,837.1 897.6,836.8 898.3,835.8 899.0,834.3 899.8,833.4 900.5,837.0 901.2,838.5 901.9,835.6 902.6,837.3 903.4,832.1 904.1,835.2 904.8,835.8 905.5,833.7 906.2,837.4 907.0,836.7 907.7,836.3 908.4,834.5 909.1,833.0 909.9,834.1 910.6,834.2 911.3,836.4 912.0,835.1 912.7,836.4 913.5,833.3 914.2,837.3 914.9,836.0 915.6,835.3 916.3,834.1 917.1,837.5 917.8,836.4 918.5,837.7 919.2,838.9 920.0,833.4 920.7,834.8 921.4,839.2 922.1,838.0 922.8,834.5 923.6,837.1 924.3,838.1 925.0,832.9 925.7,836.8 926.4,836.5 927.2,834.4 927.9,837.3 928.6,835.6 929.3,835.3 930.1,833.9 930.8,837.3 931.5,833.1 932.2,834.8 932.9,831.5 933.7,835.0 934.4,836.7 935.1,836.7 935.8,838.0 936.6,835.4 937.3,835.5 938.0,833.3 938.7,835.1 939.4,837.1 940.2,832.9 940.9,836.1 941.6,834.5 942.3,831.7 943.0,832.1 943.8,836.6 944.5,835.1 945.2,831.7 945.9,832.4 946.7,833.3 947.4,832.5 948.1,839.3 948.8,834.9 949.5,837.4 950.3,835.4 951.0,834.7 951.7,832.6 952.4,830.8 953.1,831.4 953.9,832.4 954.6,833.5 955.3,829.5 956.0,831.5 956.8,835.8 957.5,831.4 958.2,829.6 958.9,832.4 959.6,828.9 960.4,825.0 961.1,828.1 961.8,826.3 962.5,824.6 963.2,824.5 964.0,820.0 964.7,816.7 965.4,808.5 966.1,801.0 966.9,784.3 967.6,772.3 968.3,750.9 969.0,736.8 969.7,709.9 970.5,685.7 971.2,667.3 971.9,662.7 972.6,661.4 973.3,670.5 974.1,689.0 974.8,709.4 975.5,727.1 976.2,752.7 977.0,772.2 977.7,783.1 978.4,793.0 979.1,809.4 979.8,807.0 980.6,815.6 981.3,818.3 982.0,824.7 982.7,824.8 983.4,822.0 984.2,823.1 984.9,827.1 985.6,830.0 986.3,830.3 987.1,827.6 987.8,832.8 988.5,833.8 989.2,832.3 989.9,830.3 990.7,835.1 991.4,832.1 992.1,832.4 992.8,833.2 993.6,834.0 994.3,831.7 995.0,832.7 995.7,837.5 996.4,830.7 997.2,833.4 997.9,833.9 998.6,835.5 999.3,835.5 1000.0,840.7 1000.8,835.6 1001.5,833.8 1002.2,833.8 1002.9,836.8 1003.7,840.7 1004.4,838.0 1005.1,836.2 1005.8,832.6 1006.5,839.3 1007.3,835.6 1008.0,834.4 1008.7,834.3 1009.4,836.0 1010.1,842.1 1010.9,834.5 1011.6,835.6 1012.3,834.7 1013.0,838.1 1013.8,837.1 1014.5,832.6 1015.2,836.2 1015.9,836.0 1016.6,837.7 1017.4,833.2 1018.1,839.8 1018.8,837.3 1019.5,835.1 1020.2,836.2 1021.0,834.1 1021.7,835.2 1022.4,832.9 1023.1,836.7 1023.9,836.5 1024.6,835.6 1025.3,840.2 1026.0,833.0 1026.7,838.3 1027.5,833.6 1028.2,833.0 1028.9,833.9 1029.6,835.8 1030.3,837.7 1031.1,841.1 1031.8,835.0 1032.5,836.8 1033.2,832.4 1034.0,836.9 1034.7,834.9 1035.4,837.2 1036.1,835.3 1036.8,837.1 1037.6,836.7 1038.3,840.6 1039.0,837.9 1039.7,836.7 1040.4,833.5 1041.2,835.7 1041.9,839.1 1042.6,832.8 1043.3,835.6 1044.1,833.8 1044.8,838.4 1045.5,843.8 1046.2,838.1 1046.9,838.7 1047.7,835.8 1048.4,839.9 1049.1,838.4 1049.8,839.5 1050.6,836.1 1051.3,838.5 1052.0,833.3 1052.7,834.6 1053.4,834.5 1054.2,836.9 1054.9,835.9 1055.6,834.5 1056.3,838.3 1057.0,833.6 1057.8,836.6 1058.5,833.6 1059.2,831.3 1059.9,832.9 1060.7,838.9 1061.4,833.7 1062.1,837.1 1062.8,837.4 1063.5,837.0 1064.3,839.1 1065.0,835.9 1065.7,838.1 1066.4,833.9 1067.1,835.7 1067.9,842.3 1068.6,838.6 1069.3,838.8 1070.0,838.0 1070.8,838.0 1071.5,836.0 1072.2,836.8 1072.9,839.0 1073.6,835.5 1074.4,834.5 1075.1,836.5 1075.8,833.9 1076.5,835.5 1077.2,837.8 1078.0,837.4 1078.7,836.5 1079.4,835.3 1080.1,836.1 1080.9,834.3 1081.6,833.9 1082.3,838.8 1083.0,839.1 1083.7,836.8 1084.5,835.5 1085.2,834.5 1085.9,835.1 1086.6,835.2 1087.3,838.6 1088.1,835.7 1088.8,838.0 1089.5,835.6 1090.2,834.5 1091.0,838.0 1091.7,837.1 1092.4,831.0 1093.1,838.2 1093.8,837.7 1094.6,839.0 1095.3,839.8 1096.0,834.3 1096.7,838.1 1097.4,838.0 1098.2,838.4 1098.9,842.9 1099.6,834.9 1100.3,837.8 1101.1,836.7 1101.8,833.5 1102.5,836.9 1103.2,836.3 1103.9,836.2 1104.7,833.7 1105.4,839.6 1106.1,837.8 1106.8,841.5 1107.6,836.5 1108.3,835.1 1109.0,837.5 1109.7,832.1 1110.4,834.4 1111.2,832.2 1111.9,836.2 1112.6,832.5 1113.3,837.7 1114.0,835.6 1114.8,836.2 1115.5,837.5 1116.2,832.8 1116.9,833.5 1117.7,838.0 1118.4,834.9 1119.1,836.3 1119.8,836.1 1120.5,835.1 1121.3,837.6 1122.0,836.0 1122.7,835.8 1123.4,837.8 1124.1,837.6 1124.9,834.5 1125.6,836.4 1126.3,831.2 1127.0,831.7 1127.8,838.1 1128.5,835.8 1129.2,841.0 1129.9,838.0 1130.6,838.5 1131.4,838.3 1132.1,841.4 1132.8,836.0 1133.5,836.3 1134.2,838.4 1135.0,836.8 1135.7,834.5 1136.4,833.0 1137.1,839.6 1137.9,833.1 1138.6,840.5 1139.3,838.5 1140.0,837.5 1140.7,833.2 1141.5,835.3 1142.2,835.3 1142.9,833.2 1143.6,836.1 1144.3,837.6 1145.1,833.4 1145.8,837.1 1146.5,839.5 1147.2,840.5 1148.0,836.3 1148.7,832.5 1149.4,835.0 1150.1,836.5 1150.8,833.9 1151.6,840.0 1152.3,835.7 1153.0,837.8 1153.7,833.6 1154.4,838.5 1155.2,834.9 1155.9,836.2 1156.6,836.6 1157.3,835.1 1158.1,836.9 1158.8,833.5 1159.5,837.1 1160.2,841.5 1160.9,833.4 1161.7,833.7 1162.4,835.5 1163.1,833.6 1163.8,835.1 1164.6,838.5 1165.3,841.2 1166.0,839.0 1166.7,837.3 1167.4,835.5 1168.2,839.8 1168.9,838.7 1169.6,833.3 1170.3,838.2 1171.0,838.3 1171.8,838.8 1172.5,833.1 1173.2,834.9 1173.9,834.7 1174.7,833.0 1175.4,834.5 1176.1,833.7 1176.8,835.9 1177.5,834.7 1178.3,835.3 1179.0,835.1 1179.7,839.3 1180.4,837.2 1181.1,837.5 1181.9,838.1 1182.6,836.8 1183.3,832.7 1184.0,834.6 1184.8,836.5 1185.5,836.0 1186.2,833.6 1186.9,839.4 1187.6,835.8 1188.4,833.0 1189.1,832.7 1189.8,834.7 1190.5,835.5 1191.2,840.7 1192.0,838.3 1192.7,836.8 1193.4,835.9 1194.1,835.8 1194.9,841.8 1195.6,837.9 1196.3,836.1 1197.0,838.4 1197.7,837.2 1198.5,835.6 1199.2,836.1 1199.9,836.4 1200.6,835.1 1201.3,834.3 1202.1,837.4 1202.8,839.1 1203.5,838.3 1204.2,837.8 1205.0,836.8 1205.7,840.1 1206.4,838.4 1207.1,837.3 1207.8,833.7 1208.6,835.6 1209.3,837.1 1210.0,834.8 1210.7,836.3 1211.4,836.2 1212.2,834.4 1212.9,836.0 1213.6,836.4 1214.3,835.1 1215.1,837.9 1215.8,836.6 1216.5,841.4 1217.2,837.6 1217.9,833.3 1218.7,837.5 1219.4,836.7 1220.1,837.6 1220.8,839.0 1221.6,835.6 1222.3,836.8 1223.0,834.3 1223.7,838.7 1224.4,836.6 1225.2,837.5 1225.9,838.0 1226.6,834.3 1227.3,838.3 1228.0,838.3 1228.8,831.1 1229.5,836.9 1230.2,837.2 1230.9,835.7 1231.7,838.9 1232.4,835.9 1233.1,839.3 1233.8,837.7 1234.5,838.0 1235.3,833.7 1236.0,835.3 1236.7,832.6 1237.4,833.0 1238.1,838.2 1238.9,835.5 1239.6,837.7 1240.3,838.1 1241.0,834.1 1241.8,833.5 1242.5,836.4 1243.2,836.0 1243.9,836.1 1244.6,836.0 1245.4,835.9 1246.1,838.9 1246.8,835.3 1247.5,838.2 1248.2,839.3 1249.0,837.0 1249.7,836.1 1250.4,834.8 1251.1,835.9 1251.9,836.1 1252.6,838.2 1253.3,835.8 1254.0,836.2 1254.7,836.1 1255.5,838.3 1256.2,833.0 1256.9,835.0 1257.6,835.2 1258.3,836.5 1259.1,837.3 1259.8,834.7 1260.5,839.6 1261.2,837.7 1262.0,837.3 1262.7,835.5 1263.4,837.4 1264.1,833.6 1264.8,840.6 1265.6,833.3 1266.3,836.0 1267.0,834.6 1267.7,837.8 1268.4,834.4 1269.2,837.4 1269.9,836.1 1270.6,840.0 1271.3,835.5 1272.1,836.4 1272.8,840.8 1273.5,836.9 1274.2,837.4 1274.9,834.9 1275.7,838.2 1276.4,836.3 1277.1,833.9 1277.8,838.6 1278.6,832.6 1279.3,836.2 1280.0,837.2 1280.7,839.7 1281.4,840.6 1282.2,834.6 1282.9,837.7 1283.6,838.1 1284.3,834.3 1285.0,835.2 1285.8,836.4 1286.5,839.9 1287.2,841.0 1287.9,834.6 1288.7,836.8 1289.4,837.2 1290.1,832.4 1290.8,837.6 1291.5,835.9 1292.3,831.9 1293.0,835.3 1293.7,837.8 1294.4,838.5 1295.1,833.9 1295.9,839.3 1296.6,834.8 1297.3,833.0 1298.0,836.8 1298.8,834.8 1299.5,836.4 1300.2,833.4 1300.9,835.9 1301.6,838.1 1302.4,835.7 1303.1,836.2 1303.8,837.9 1304.5,837.0 1305.2,839.2 1306.0,838.3 1306.7,835.1 1307.4,840.5 1308.1,835.8 1308.9,836.4 1309.6,837.7 1310.3,833.3 1311.0,834.9 1311.7,837.7 1312.5,835.9 1313.2,834.3 1313.9,839.8 1314.6,835.9 1315.3,836.9 1316.1,835.4 1316.8,831.6 1317.5,837.7 1318.2,837.0 1319.0,838.8 1319.7,835.7 1320.4,834.8 1321.1,841.5 1321.8,832.8 1322.6,832.5 1323.3,841.9 1324.0,839.3 1324.7,834.8 1325.4,835.6 1326.2,833.1 1326.9,836.3 1327.6,832.7 1328.3,838.5 1329.1,834.5 1329.8,836.3 1330.5,836.2 1331.2,839.0 1331.9,835.8 1332.7,831.7 1333.4,836.0 1334.1,834.9 1334.8,833.8 1335.6,836.0 1336.3,832.9 1337.0,831.8 1337.7,833.1 1338.4,836.0 1339.2,827.4 1339.9,829.5 1340.6,827.9 1341.3,825.9 1342.0,823.5 1342.8,821.6 1343.5,811.9 1344.2,804.3 1344.9,793.6 1345.7,782.5 1346.4,779.9 1347.1,764.8 1347.8,763.9 1348.5,760.9 1349.3,767.9 1350.0,768.7 1350.7,779.2 1351.4,782.2 1352.1,795.3 1352.9,799.2 1353.6,807.1 1354.3,811.0 1355.0,816.2 1355.8,820.4 1356.5,825.1 1357.2,824.3 1357.9,826.9 1358.6,831.4 1359.4,829.0 1360.1,833.0 1360.8,831.9 1361.5,832.9 1362.2,833.2 1363.0,831.6 1363.7,837.7 1364.4,831.1 1365.1,838.1 1365.9,831.5 1366.6,833.2 1367.3,837.9 1368.0,833.9 1368.7,835.6 1369.5,837.6 1370.2,832.4 1370.9,832.7 1371.6,834.4 1372.3,831.6 1373.1,835.0 1373.8,836.0 1374.5,832.5 1375.2,837.1 1376.0,833.8 1376.7,833.1 1377.4,835.1 1378.1,835.4 1378.8,834.6 1379.6,835.2 1380.3,837.3 1381.0,843.7 1381.7,836.9 1382.4,839.1 1383.2,833.7 1383.9,836.9 1384.6,835.4 1385.3,834.2 1386.1,833.7 1386.8,838.0 1387.5,831.2 1388.2,833.9 1388.9,834.5 1389.7,838.0 1390.4,831.5 1391.1,834.5 1391.8,833.5 1392.6,836.7 1393.3,831.8 1394.0,832.8 1394.7,836.3 1395.4,831.6 1396.2,838.4 1396.9,834.1 1397.6,834.6 1398.3,834.6 1399.0,837.7 1399.8,836.9 1400.5,834.0 1401.2,833.8 1401.9,836.3 1402.7,836.7 1403.4,837.3 1404.1,833.2 1404.8,836.5 1405.5,837.4 1406.3,840.4 1407.0,840.2 1407.7,838.7 1408.4,840.7 1409.1,837.2 1409.9,836.9 1410.6,838.5 1411.3,837.2 1412.0,836.5 1412.8,840.2 1413.5,834.7 1414.2,842.4 1414.9,831.9 1415.6,839.5 1416.4,836.2 1417.1,837.0 1417.8,835.4 1418.5,837.9 1419.2,835.0 1420.0,839.7 1420.7,834.5 1421.4,836.8 1422.1,835.3 1422.9,833.9 1423.6,838.7 1424.3,837.4 1425.0,837.7 1425.7,836.3 1426.5,835.7 1427.2,834.4 1427.9,835.5 1428.6,836.3 1429.3,834.7 1430.1,833.6 1430.8,833.7 1431.5,831.2 1432.2,837.2 1433.0,835.3 1433.7,838.7 1434.4,837.2 1435.1,834.3 1435.8,832.9 1436.6,836.7 1437.3,834.5 1438.0,835.3 1438.7,834.3 1439.4,834.9 1440.2,836.4 1440.9,840.3 1441.6,838.5 1442.3,834.3 1443.1,835.3 1443.8,830.4 1444.5,834.8 1445.2,832.8 1445.9,837.4 1446.7,837.7 1447.4,834.1 1448.1,830.7 1448.8,833.4 1449.6,834.8 1450.3,833.1 1451.0,832.4 1451.7,832.6 1452.4,833.4 1453.2,835.6 1453.9,835.5 1454.6,833.9 1455.3,832.7 1456.0,835.1 1456.8,828.1 1457.5,830.0 1458.2,832.1 1458.9,828.6 1459.7,824.2 1460.4,828.5 1461.1,827.7 1461.8,824.9 1462.5,829.3 1463.3,826.0 1464.0,824.6 1464.7,818.5 1465.4,821.0 1466.1,811.4 1466.9,807.0 1467.6,797.7 1468.3,786.9 1469.0,766.1 1469.8,754.7 1470.5,734.2 1471.2,704.8 1471.9,682.7 1472.6,654.8 1473.4,638.6 1474.1,629.0 1474.8,630.2 1475.5,646.1 1476.2,661.6 1477.0,664.0 1477.7,696.0 1478.4,709.9 1479.1,734.6 1479.9,748.7 1480.6,764.6 1481.3,772.9 1482.0,788.7 1482.7,801.2 1483.5,807.9 1484.2,809.1 1484.9,812.1 1485.6,812.7 1486.3,815.1 1487.1,825.6 1487.8,824.2 1488.5,828.0 1489.2,825.6 1490.0,825.3 1490.7,832.1 1491.4,826.7 1492.1,827.6 1492.8,830.3 1493.6,831.5 1494.3,826.9 1495.0,831.3 1495.7,833.8 1496.5,831.4 1497.2,829.6 1497.9,830.7 1498.6,836.8 1499.3,835.7 1500.1,833.8 1500.8,832.7 1501.5,832.9 1502.2,836.2 1502.9,831.5 1503.7,832.6 1504.4,837.3 1505.1,836.0 1505.8,834.3 1506.6,837.5 1507.3,834.1 1508.0,833.9 1508.7,835.3 1509.4,833.2 1510.2,830.6 1510.9,836.0 1511.6,833.6 1512.3,835.7 1513.0,831.4 1513.8,832.1 1514.5,834.9 1515.2,836.3 1515.9,833.3 1516.7,835.2 1517.4,837.7 1518.1,837.3 1518.8,835.5 1519.5,830.4 1520.3,832.8 1521.0,832.2 1521.7,833.2 1522.4,832.3 1523.1,832.0 1523.9,837.8 1524.6,834.0 1525.3,834.0 1526.0,834.3 1526.8,834.5 1527.5,840.9 1528.2,835.1 1528.9,838.4 1529.6,833.4 1530.4,836.7 1531.1,836.1 1531.8,835.7 1532.5,840.0 1533.2,836.0 1534.0,838.4 1534.7,833.5 1535.4,836.8 1536.1,838.1 1536.9,833.0 1537.6,836.3 1538.3,837.8 1539.0,835.9 1539.7,836.1 1540.5,835.2 1541.2,837.9 1541.9,833.4 1542.6,835.0 1543.3,832.2 1544.1,834.5 1544.8,837.9 1545.5,833.4 1546.2,836.3 1547.0,835.5 1547.7,841.1 1548.4,838.5 1549.1,832.8 1549.8,833.4 1550.6,839.6 1551.3,835.0 1552.0,835.0 1552.7,833.1 1553.5,838.1 1554.2,839.5 1554.9,835.1 1555.6,837.2 1556.3,837.1 1557.1,837.7 1557.8,833.1 1558.5,837.6 1559.2,833.7 1559.9,834.4 1560.7,837.2 1561.4,833.6 1562.1,833.0 1562.8,835.0 1563.6,836.3 1564.3,834.1 1565.0,837.4 1565.7,834.7 1566.4,832.4 1567.2,838.7 1567.9,839.6 1568.6,834.2 1569.3,837.6 1570.0,836.7 1570.8,835.4 1571.5,837.1 1572.2,835.5 1572.9,837.9 1573.7,836.9 1574.4,835.9 1575.1,834.5 1575.8,836.6 1576.5,835.0 1577.3,834.4 1578.0,834.6 1578.7,835.9 1579.4,832.9 1580.1,837.4 1580.9,833.4 1581.6,833.5 1582.3,833.7 1583.0,836.8 1583.8,833.6 1584.5,834.6 1585.2,838.1 1585.9,836.3 1586.6,838.5 1587.4,834.8 1588.1,832.6 1588.8,833.6 1589.5,837.7 1590.2,837.7 1591.0,836.0 1591.7,835.9 1592.4,833.9 1593.1,836.2 1593.9,833.1 1594.6,836.7 1595.3,833.3 1596.0,838.6 1596.7,836.7 1597.5,835.4 1598.2,833.7 1598.9,834.3 1599.6,837.3 1600.3,838.2 1601.1,835.4 1601.8,835.6 1602.5,836.2 1603.2,835.4 1604.0,838.2 1604.7,834.2 1605.4,833.2 1606.1,837.2 1606.8,837.1 1607.6,832.6 1608.3,832.9 1609.0,836.9 1609.7,836.7 1610.5,839.0 1611.2,834.1 1611.9,834.7 1612.6,835.1 1613.3,830.3 1614.1,835.5 1614.8,835.3 1615.5,834.5 1616.2,835.4 1616.9,832.6 1617.7,835.3 1618.4,834.7 1619.1,830.1 1619.8,836.1 1620.6,837.4 1621.3,834.5 1622.0,836.1 1622.7,836.1 1623.4,834.2 1624.2,832.9 1624.9,838.0 1625.6,835.1 1626.3,839.1 1627.0,832.6 1627.8,836.7 1628.5,833.1 1629.2,830.5 1629.9,831.5 1630.7,833.4 1631.4,838.6 1632.1,830.1 1632.8,835.1 1633.5,832.4 1634.3,835.2 1635.0,834.5 1635.7,830.4 1636.4,837.5 1637.1,836.5 1637.9,834.3 1638.6,831.3 1639.3,839.0 1640.0,830.7 1640.8,834.2 1641.5,831.7 1642.2,827.3 1642.9,831.8 1643.6,830.4 1644.4,829.7 1645.1,833.2 1645.8,832.0 1646.5,832.5 1647.2,831.5 1648.0,832.4 1648.7,832.7 1649.4,832.7 1650.1,829.4 1650.9,833.8 1651.6,830.3 1652.3,827.2 1653.0,833.0 1653.7,833.4 1654.5,827.6 1655.2,830.4 1655.9,829.8 1656.6,826.1 1657.3,826.3 1658.1,827.8 1658.8,826.3 1659.5,828.1 1660.2,825.1 1661.0,822.8 1661.7,820.1 1662.4,818.5 1663.1,813.9 1663.8,816.0 1664.6,810.7 1665.3,809.0 1666.0,807.7 1666.7,798.7 1667.5,791.2 1668.2,780.9 1668.9,769.5 1669.6,755.9 1670.3,741.5 1671.1,718.8 1671.8,692.8 1672.5,665.0 1673.2,636.3 1673.9,610.2 1674.7,583.6 1675.4,560.1 1676.1,554.5 1676.8,557.0 1677.6,567.4 1678.3,573.0 1679.0,587.2 1679.7,611.4 1680.4,625.2 1681.2,656.6 1681.9,676.0 1682.6,695.1 1683.3,718.0 1684.0,727.3 1684.8,748.1 1685.5,762.4 1686.2,775.4 1686.9,777.1 1687.7,784.2 1688.4,797.1 1689.1,803.6 1689.8,805.5 1690.5,808.1 1691.3,812.4 1692.0,812.5 1692.7,818.3 1693.4,812.6 1694.1,818.1 1694.9,817.9 1695.6,822.3 1696.3,820.2 1697.0,819.4 1697.8,825.7 1698.5,824.5 1699.2,823.1 1699.9,825.1 1700.6,828.5 1701.4,828.1 1702.1,826.2 1702.8,827.2 1703.5,829.8 1704.2,827.9 1705.0,834.0 1705.7,829.2 1706.4,827.5 1707.1,827.8 1707.9,831.1 1708.6,829.9 1709.3,830.1 1710.0,831.1 1710.7,832.8 1711.5,834.4 1712.2,832.8 1712.9,834.4 1713.6,836.5 1714.3,829.5 1715.1,835.5 1715.8,833.9 1716.5,834.1 1717.2,836.6 1718.0,832.3 1718.7,836.8 1719.4,829.4 1720.1,836.4 1720.8,835.2 1721.6,833.9 1722.3,834.0 1723.0,833.7 1723.7,831.4 1724.5,830.8 1725.2,828.6 1725.9,836.1 1726.6,831.2 1727.3,832.0 1728.1,834.2 1728.8,836.4 1729.5,828.3 1730.2,831.0 1730.9,837.5 1731.7,830.4 1732.4,832.7 1733.1,833.3 1733.8,832.1 1734.6,835.2 1735.3,834.2 1736.0,831.9 1736.7,836.5 1737.4,837.0 1738.2,837.7 1738.9,832.5 1739.6,836.4 1740.3,834.9 1741.0,835.3 1741.8,833.0 1742.5,833.5 1743.2,836.1 1743.9,831.3 1744.7,833.4 1745.4,833.6 1746.1,835.4 1746.8,835.2 1747.5,835.0 1748.3,834.4 1749.0,833.6 1749.7,833.6 1750.4,835.1 1751.1,834.8 1751.9,833.1 1752.6,832.0 1753.3,831.9 1754.0,834.7 1754.8,837.4 1755.5,834.3 1756.2,834.3 1756.9,834.5 1757.6,833.6 1758.4,835.8 1759.1,834.5 1759.8,839.7 1760.5,830.9 1761.2,834.7 1762.0,835.5 1762.7,833.7 1763.4,835.3 1764.1,836.4 1764.9,833.0 1765.6,834.7 1766.3,836.3 1767.0,833.4 1767.7,833.9 1768.5,834.1 1769.2,835.5 1769.9,832.6 1770.6,836.8 1771.3,833.1 1772.1,831.6 1772.8,836.9 1773.5,834.4 1774.2,838.8 1775.0,834.8 1775.7,838.6 1776.4,837.8 1777.1,834.5 1777.8,832.6 1778.6,833.8 1779.3,835.4 1780.0,836.6 1780.7,834.9 1781.5,829.7 1782.2,831.8 1782.9,837.7 1783.6,836.4 1784.3,837.9 1785.1,833.6 1785.8,835.3 1786.5,838.0 1787.2,834.9 1787.9,835.5 1788.7,836.5 1789.4,834.6 1790.1,831.3 1790.8,833.9 1791.6,830.7 1792.3,830.3 1793.0,825.0 1793.7,819.0 1794.4,821.6 1795.2,827.2 1795.9,829.9 1796.6,828.2 1797.3,832.9 1798.0,834.7 1798.8,831.6 1799.5,835.2 1800.2,836.0 1800.9,833.7 1801.7,837.4 1802.4,835.6 1803.1,836.4 1803.8,834.5 1804.5,835.0 1805.3,830.9 1806.0,833.4 1806.7,834.8 1807.4,833.6 1808.1,835.3 1808.9,834.3 1809.6,833.6 1810.3,833.9 1811.0,831.9 1811.8,833.7 1812.5,836.4 1813.2,834.3 1813.9,837.3 1814.6,830.6 1815.4,838.9 1816.1,835.2 1816.8,833.9 1817.5,836.9 1818.2,835.9 1819.0,832.8 1819.7,837.6 1820.4,833.0 1821.1,835.5 1821.9,835.8 1822.6,830.8 1823.3,833.3 1824.0,834.2 1824.7,835.5 1825.5,834.6 1826.2,835.4 1826.9,831.1 1827.6,834.6 1828.3,836.6 1829.1,836.1 1829.8,834.1 1830.5,837.3 1831.2,836.6 1832.0,838.4 1832.7,839.9 1833.4,830.1 1834.1,835.4 1834.8,831.2 1835.6,833.8 1836.3,834.3 1837.0,837.3 1837.7,835.0 1838.5,834.6 1839.2,836.9 1839.9,833.4 1840.6,832.3 1841.3,833.9 1842.1,834.5 1842.8,838.6 1843.5,829.0 1844.2,833.3 1844.9,837.4 1845.7,837.4 1846.4,836.4 1847.1,837.1 1847.8,834.8 1848.6,836.8 1849.3,834.7 1850.0,835.9 1850.7,835.5 1851.4,837.5 1852.2,834.6 1852.9,834.4 1853.6,836.7 1854.3,838.5 1855.0,834.8 1855.8,838.8 1856.5,836.7 1857.2,834.0 1857.9,832.3 1858.7,835.6 1859.4,834.3 1860.1,832.2 1860.8,837.2 1861.5,835.9 1862.3,834.4 1863.0,832.2 1863.7,837.5 1864.4,837.6 1865.1,832.9 1865.9,832.4 1866.6,836.3 1867.3,834.9 1868.0,832.9 1868.8,835.5 1869.5,839.1 1870.2,834.6 1870.9,833.0 1871.6,837.7 1872.4,832.3 1873.1,835.7 1873.8,838.9 1874.5,834.6 1875.2,838.3 1876.0,832.1 1876.7,834.0 1877.4,831.2 1878.1,838.6 1878.9,834.8 1879.6,831.9 1880.3,832.5 1881.0,833.7 1881.7,834.2 1882.5,833.7 1883.2,832.9 1883.9,831.2 1884.6,838.8 1885.3,837.2 1886.1,836.3 1886.8,834.6 1887.5,834.2 1888.2,835.8 1889.0,835.2 1889.7,833.4 1890.4,832.5 1891.1,836.7 1891.8,835.6 1892.6,834.9 1893.3,829.7 1894.0,836.4 1894.7,834.4 1895.5,834.9 1896.2,835.9 1896.9,833.0 1897.6,835.2 1898.3,836.1 1899.1,834.9 1899.8,834.5 1900.5,836.4 1901.2,836.6 1901.9,832.6 1902.7,836.3 1903.4,833.1 1904.1,835.4 1904.8,836.9 1905.6,837.5 1906.3,838.7 1907.0,833.6 1907.7,833.7 1908.4,836.0 1909.2,837.4 1909.9,836.3 1910.6,834.8 1911.3,832.5 1912.0,836.6 1912.8,838.8 1913.5,834.7 1914.2,836.0 1914.9,837.0 1915.7,839.2 1916.4,834.0 1917.1,832.2 1917.8,837.4 1918.5,838.4 1919.3,836.4 1920.0,835.9 1920.7,834.1 1921.4,835.1 1922.1,838.9 1922.9,834.7 1923.6,834.7 1924.3,836.4 1925.0,834.7 1925.8,838.2 1926.5,836.1 1927.2,838.2 1927.9,835.3 1928.6,833.7 1929.4,839.5 1930.1,835.2 1930.8,833.7 1931.5,834.8 1932.2,831.9 1933.0,835.4 1933.7,830.7 1934.4,835.0 1935.1,837.8 1935.9,835.5 1936.6,836.7 1937.3,832.6 1938.0,831.7 1938.7,831.5 1939.5,833.5 1940.2,835.4 1940.9,836.4 1941.6,837.5 1942.3,833.7 1943.1,837.8 1943.8,835.7 1944.5,834.6 1945.2,834.2 1946.0,838.1 1946.7,837.7 1947.4,837.6"/>
</g>
<rect x="143.6" y="20.8" width="1803.8" height="1229.7" fill="none" stroke="#000" stroke-width="4.2"/>
<path d="M143.6,1250.5V1272.2M233.8,1250.5V1261.6M324.0,1250.5V1272.2M414.2,1250.5V1261.6M504.4,1250.5V1272.2M594.6,1250.5V1261.6M684.7,1250.5V1272.2M774.9,1250.5V1261.6M865.1,1250.5V1272.2M955.3,1250.5V1261.6M1045.5,1250.5V1272.2M1135.7,1250.5V1261.6M1225.9,1250.5V1272.2M1316.1,1250.5V1261.6M1406.3,1250.5V1272.2M1496.4,1250.5V1261.6M1586.6,1250.5V1272.2M1676.8,1250.5V1261.6M1767.0,1250.5V1272.2M1857.2,1250.5V1261.6M1947.4,1250.5V1272.2" stroke="#000" stroke-width="4.2" fill="none"/>
<text x="143.6" y="1316.6" font-size="40.5" text-anchor="middle">20</text>
<text x="324.0" y="1316.6" font-size="40.5" text-anchor="middle">25</text>
<text x="504.4" y="1316.6" font-size="40.5" text-anchor="middle">30</text>
<text x="684.7" y="1316.6" font-size="40.5" text-anchor="middle">35</text>
<text x="865.1" y="1316.6" font-size="40.5" text-anchor="middle">40</text>
<text x="1045.5" y="1316.6" font-size="40.5" text-anchor="middle">45</text>
<text x="1225.9" y="1316.6" font-size="40.5" text-anchor="middle">50</text>
<text x="1406.3" y="1316.6" font-size="40.5" text-anchor="middle">55</text>
<text x="1586.6" y="1316.6" font-size="40.5" text-anchor="middle">60</text>
<text x="1767.0" y="1316.6" font-size="40.5" text-anchor="middle">65</text>
<text x="1947.4" y="1316.6" font-size="40.5" text-anchor="middle">70</text>
<text x="789.1" y="1397.6" font-size="60.5">2 Theta (Degree)</text>
<text transform="translate(64.8,799) rotate(-90)" font-size="59.7">intensity</text>
<text x="453.4" y="585.4" font-size="51.5">220</text>
<text x="646.0" y="110.0" font-size="51.5">311</text>
<text x="714.1" y="739.5" font-size="51.5">222</text>
<text x="922.0" y="628.5" font-size="51.5">400</text>
<text x="1292.3" y="727.6" font-size="51.5">422</text>
<text x="1416.9" y="588.8" font-size="51.5">511</text>
<text x="1624.2" y="511.9" font-size="51.5">440</text>
<text x="224.7" y="807.6" font-size="51.5">800 <tspan dx="-2" dy="4.1">°</tspan><tspan dx="-1.6" dy="-4.1">C</tspan></text>
<text x="224.9" y="1005.1" font-size="51.5">400 <tspan dx="-2" dy="4.1">°</tspan><tspan dx="-1.6" dy="-4.1">C</tspan></text>
<text x="171.4" y="1166.2" font-size="51.5">unsintered</text>
<text class="t" font-size="63.5"><tspan x="1471.4 1514.9 1546.3 1591.6" y="180.2">CoCr</tspan><tspan font-size="40.5" x="1618.8" y="201.4">0.2</tspan><tspan x="1671.2 1707.3" y="180.2">Fe</tspan><tspan font-size="40.5" x="1733.8" y="201.4">1.8</tspan><tspan x="1784.5" y="180.2">O</tspan><tspan font-size="40.5" x="1832.4" y="201.4">4</tspan></text>
</svg></body></html>
